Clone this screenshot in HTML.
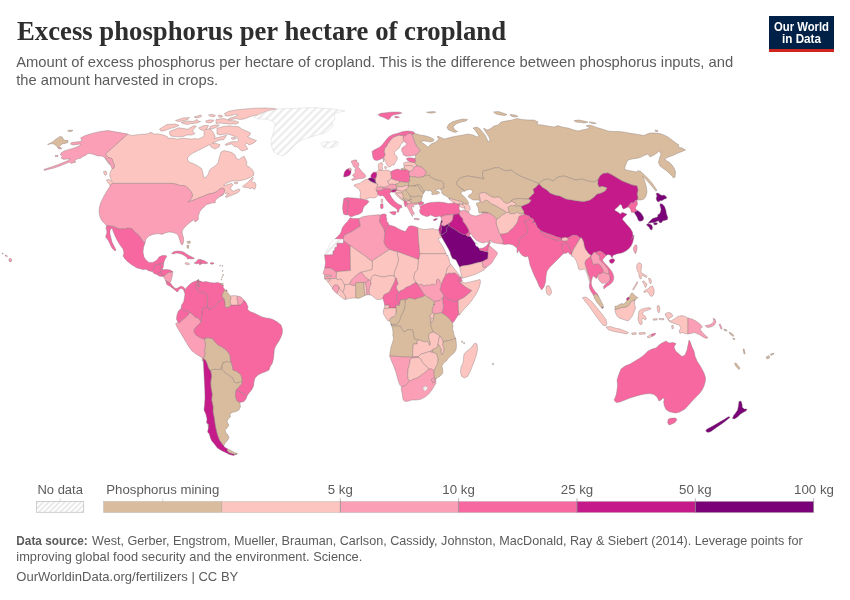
<!DOCTYPE html>
<html lang="en">
<head>
<meta charset="utf-8">
<title>Excess phosphorus per hectare of cropland</title>
<style>
html,body{margin:0;padding:0;background:#fff;}
body{width:850px;height:600px;overflow:hidden;}
svg{display:block;}
text{font-family:"Liberation Sans",sans-serif;}
.title{font-family:"Liberation Serif",serif;font-weight:bold;font-size:27px;fill:#2e2e2e;}
.sub{font-size:14.5px;fill:#5b5b5b;}
.leg{font-size:13px;fill:#5b5b5b;}
.foot{font-size:13px;fill:#5b5b5b;}
.logo{font-size:12px;font-weight:bold;fill:#fff;}
</style>
</head>
<body>
<svg width="850" height="600" viewBox="0 0 850 600">
<defs>
<pattern id="hatch" patternUnits="userSpaceOnUse" width="3.8" height="3.8" patternTransform="rotate(45)">
<rect width="3.8" height="3.8" fill="#fff"/>
<line x1="1.9" y1="0" x2="1.9" y2="3.8" stroke="#dadada" stroke-width="1.1"/>
</pattern>
<pattern id="hatchmap" patternUnits="userSpaceOnUse" width="5.5" height="5.5" patternTransform="rotate(45)">
<rect width="5.5" height="5.5" fill="#fff"/>
<line x1="2.75" y1="0" x2="2.75" y2="5.5" stroke="#ebebeb" stroke-width="2.3"/>
</pattern>
</defs>
<rect width="850" height="600" fill="#fff"/>
<!-- header -->
<text class="title" x="17" y="40.3" textLength="489" lengthAdjust="spacingAndGlyphs">Excess phosphorus per hectare of cropland</text>
<text class="sub" x="16.2" y="66.8" textLength="717" lengthAdjust="spacingAndGlyphs">Amount of excess phosphorus per hectare of cropland. This is the difference between phosphorus inputs, and</text>
<text class="sub" x="16.2" y="84.8" textLength="202" lengthAdjust="spacingAndGlyphs">the amount harvested in crops.</text>
<!-- logo -->
<g id="logo">
<rect x="769" y="16" width="65" height="36" fill="#002147"/>
<rect x="769" y="49" width="65" height="3" fill="#ce261e"/>
<text class="logo" x="801.5" y="30.5" text-anchor="middle" textLength="55" lengthAdjust="spacingAndGlyphs">Our World</text>
<text class="logo" x="801.5" y="43" text-anchor="middle" textLength="39" lengthAdjust="spacingAndGlyphs">in Data</text>
</g>
<!-- MAP -->
<g id="map" stroke="#857777" stroke-width="0.38" stroke-linejoin="round" fill-rule="evenodd">
<path d="M268.0,111.0 277.2,109.2 274.0,108.5 265.0,108.0 255.0,108.2 245.0,109.0 235.0,110.0 228.0,111.5 224.5,113.5 225.5,116.0 229.0,116.0 233.0,115.0 236.0,114.0 238.0,115.0 234.0,117.0 230.0,118.0 227.8,119.8 224.0,118.5 216.0,119.5 216.0,123.5 220.0,123.0 224.0,123.5 230.0,124.0 236.0,124.0 239.0,122.5 236.0,121.0 230.0,120.5 228.2,119.9 232.0,119.5 236.0,118.5 240.0,119.5 244.0,119.0 252.0,116.0 256.4,115.1 256.6,115.7 260.0,114.0ZM236.5,142.0 234.0,141.5 231.0,142.0 228.0,143.0 225.0,144.5 226.0,145.5 229.0,144.5 231.5,144.0 233.5,145.5 235.0,147.0 236.5,146.5 238.5,148.0 240.5,150.0 242.5,151.0 245.5,150.0 248.0,149.0 246.5,147.0 245.0,144.5 247.0,143.0 249.0,145.0 251.5,144.0 254.5,142.5 256.5,140.5 253.5,139.5 250.0,138.0 247.5,136.5 250.0,135.0 250.5,133.0 247.5,131.5 241.5,129.0 239.5,127.0 236.0,126.2 233.0,126.5 230.0,125.8 223.0,126.5 220.0,127.5 217.0,128.0 217.0,134.0 220.0,135.0 222.0,134.5 226.0,134.0 230.0,134.5 233.0,136.0 236.0,136.5 238.0,138.0 238.5,140.0ZM254.5,189.5 255.5,187.5 256.0,185.5 255.5,183.5 254.5,182.0 253.0,182.5 251.5,181.5 252.5,180.0 253.5,177.8 252.5,177.5 247.0,183.0 242.5,186.5 243.5,187.2 245.0,187.2 249.0,187.8 250.0,189.0 252.8,187.5 253.5,189.0ZM204.0,135.6 202.5,137.2 200.0,138.2 198.0,139.2 196.0,138.5 192.0,139.0 188.0,138.8 184.0,138.2 180.0,138.5 177.5,139.2 174.0,138.4 170.0,138.0 168.5,138.5 167.5,136.8 164.0,135.2 160.0,134.3 157.0,133.8 154.5,134.2 152.0,132.8 150.0,132.2 150.0,133.4 146.0,134.0 140.0,134.4 136.0,135.0 131.0,135.4 127.6,134.0 105.4,154.0 108.0,157.4 112.0,158.6 113.0,162.0 114.4,165.0 114.0,168.0 112.0,168.6 112.2,169.1 111.6,169.4 110.4,172.0 109.6,175.0 110.4,178.0 112.0,181.0 112.3,181.7 112.0,181.4 109.0,179.4 106.4,180.0 108.0,182.6 110.0,185.0 110.5,185.4 112.0,183.4 172.0,183.4 177.0,184.4 180.0,185.5 183.0,185.5 186.0,186.5 188.5,188.5 190.5,191.0 192.0,193.5 192.5,195.5 191.5,198.0 190.0,200.0 188.0,202.2 191.0,201.0 194.0,200.0 200.0,197.5 203.0,196.5 206.0,195.0 209.0,194.0 212.0,193.5 215.0,192.5 217.0,191.5 218.5,190.0 220.0,188.8 222.0,188.2 224.0,188.5 224.5,190.0 224.0,192.5 225.0,193.5 227.0,193.2 229.0,193.5 226.0,195.5 225.5,197.0 226.5,197.5 228.5,196.5 236.0,193.5 238.0,192.5 239.5,191.2 239.8,189.5 238.5,189.0 236.5,189.8 233.5,191.2 231.5,190.0 230.5,188.5 231.5,186.5 233.0,185.0 232.0,183.5 230.0,183.8 224.0,185.8 223.7,185.0 226.0,183.5 229.0,182.0 232.0,181.0 235.0,180.8 238.0,181.0 241.0,180.5 245.0,179.5 248.0,178.5 252.0,176.5 253.5,175.5 254.0,173.0 252.5,170.0 250.0,167.5 246.0,165.0 247.0,163.0 245.6,159.0 244.0,156.0 239.0,159.4 236.4,158.6 235.0,155.0 232.0,152.6 228.0,151.4 224.0,150.6 221.0,152.0 220.0,155.0 218.0,163.0 215.0,166.0 212.0,168.0 209.6,170.0 208.4,174.0 206.0,177.4 203.6,177.0 203.0,173.0 201.6,168.6 198.0,166.0 193.0,163.4 189.0,162.0 187.5,159.5 188.0,157.0 190.0,155.0 193.0,153.0 210.2,144.4 211.0,147.0 215.0,149.0 219.0,147.0 220.0,144.5 214.0,143.0 212.3,143.2 213.0,142.8 216.0,141.5 220.0,140.0 224.0,139.5 225.5,137.0 226.5,135.0 224.0,136.0 216.0,138.0 214.1,138.7 215.2,137.0 214.2,134.0 212.0,130.8 210.8,130.0 210.5,129.5 210.2,129.6 209.0,128.8 205.2,129.7 207.0,128.5 208.5,125.5 204.0,125.5 198.5,128.0 201.0,130.0 204.0,130.5ZM237.0,183.8 238.2,182.8 236.0,182.0 234.0,182.5 234.8,183.8ZM233.0,139.5 236.5,138.5 235.0,137.2 231.0,138.0ZM220.6,196.0 223.0,195.0 223.4,194.1 222.0,195.0ZM219.5,117.5 222.5,117.0 221.5,115.0 218.0,115.5ZM219.5,125.0 215.0,125.0 210.0,126.5 209.5,129.0 212.0,129.0 216.0,127.5ZM208.5,115.0 210.0,116.2 214.0,117.0 215.5,115.5 212.0,114.2ZM209.0,123.0 212.5,122.0 214.0,120.2 210.0,119.8 205.5,121.0 206.5,122.5ZM194.0,117.0 197.0,118.0 201.5,116.5 201.0,115.0ZM187.0,121.0 181.0,122.5 183.0,123.5 187.0,124.5 192.0,123.5 197.0,123.0 200.5,121.5 198.0,121.0 197.0,119.5 193.0,121.5ZM194.0,128.5 196.5,126.2 194.0,125.7 190.0,127.8 188.0,129.3 184.0,128.5 179.0,127.8 169.8,131.2 169.5,134.0 171.0,136.0 177.0,136.8 183.0,136.6 187.0,135.0 192.0,135.0 195.0,133.5 192.5,131.0ZM183.0,121.0 187.5,119.5 189.5,117.5 183.0,118.0 175.5,120.5 178.0,121.5ZM165.0,130.5 170.0,128.6 176.5,126.8 179.0,125.3 175.0,124.0 167.0,124.5 159.5,129.0 161.0,131.2ZM104.6,157.5 108.0,163.0 110.7,165.2 109.0,162.0 107.0,159.4ZM107.0,174.0 106.0,171.0 103.6,171.4 104.0,174.0 105.6,175.4Z" fill="#fcc5c0"/>
<path d="M101.0,202.0 99.4,207.0 99.0,212.0 100.0,217.0 102.0,221.0 106.6,225.6 113.0,226.4 119.0,229.0 126.0,229.0 127.0,228.0 132.0,228.6 135.0,232.4 138.0,234.4 140.0,237.0 143.6,242.4 145.0,243.0 146.0,239.0 149.0,236.0 153.0,234.4 158.0,233.6 162.0,234.4 165.0,233.0 169.0,232.0 173.0,232.4 176.0,233.6 178.0,235.0 181.0,244.0 182.4,245.0 183.6,242.0 183.6,238.0 182.4,234.0 182.0,231.0 184.0,228.0 187.0,225.0 190.0,222.4 194.0,219.6 195.0,222.0 197.5,220.5 198.5,219.0 198.2,217.0 198.5,215.0 199.5,213.5 199.2,212.5 200.5,210.8 201.5,209.2 203.0,208.0 206.0,205.0 207.5,204.2 210.0,203.7 212.0,202.8 214.0,203.0 215.5,202.5 215.0,201.5 216.0,199.5 222.0,195.0 223.5,194.0 224.0,192.5 224.5,190.0 224.0,188.5 222.0,188.2 220.0,188.8 218.5,190.0 217.0,191.5 215.0,192.5 212.0,193.5 209.0,194.0 206.0,195.0 203.0,196.5 200.0,197.5 194.0,200.0 191.0,201.0 188.0,202.2 190.0,200.0 191.5,198.0 192.5,195.5 192.0,193.5 190.5,191.0 188.5,188.5 186.0,186.5 183.0,185.5 180.0,185.5 177.0,184.4 172.0,183.4 112.0,183.4 110.5,185.4 110.0,185.0 110.3,185.4 104.0,196.0ZM96.0,132.4 90.0,134.0 84.0,136.0 80.6,138.0 82.0,140.6 80.0,141.4 76.0,142.0 71.6,142.4 70.4,144.0 73.0,145.0 77.0,144.4 81.0,144.0 79.0,146.0 74.0,148.0 69.0,149.4 64.0,151.0 61.0,153.0 60.4,155.0 62.4,156.6 61.0,158.0 63.6,159.4 67.0,159.0 70.0,159.0 68.0,160.6 57.0,165.0 44.0,169.4 44.0,170.4 54.0,168.0 60.0,166.0 66.0,163.4 70.0,162.0 71.0,163.4 76.0,162.0 74.0,161.0 77.0,159.0 81.0,158.0 83.0,156.6 86.4,155.0 88.0,153.4 90.0,153.6 94.0,154.6 98.0,156.0 102.0,156.0 104.4,157.4 107.0,159.4 109.0,162.0 110.6,165.0 112.0,168.6 114.0,168.0 114.4,165.0 113.0,162.0 112.0,158.6 108.0,157.4 105.4,154.0 127.6,134.0 120.0,132.6 108.0,130.6 102.0,131.2ZM57.6,147.6 59.0,149.0 62.0,148.8 61.0,147.6ZM55.4,156.6 58.0,156.6 58.0,155.4 55.0,155.4Z" fill="#fa9fb5"/>
<path d="M412.8,136.5 415.0,143.0 416.5,146.0 420.0,150.5 418.5,152.5 416.5,154.5 415.5,154.9 415.5,157.0 415.0,158.5 415.5,161.0 415.0,162.5 414.0,162.5 414.0,162.7 415.0,162.8 416.5,165.0 415.5,166.5 418.0,166.0 421.0,167.0 423.5,168.5 426.5,172.5 425.0,174.5 424.5,175.5 425.2,176.1 427.0,175.5 429.5,175.0 430.0,176.5 433.0,178.5 436.0,180.0 439.0,180.5 442.0,181.5 443.8,183.0 443.5,185.5 444.0,187.5 442.0,188.5 440.5,189.5 442.0,191.0 441.5,193.0 443.0,194.5 446.0,196.0 449.0,198.0 455.0,200.0 459.0,201.0 462.0,202.0 464.0,203.5 466.0,204.0 467.2,204.4 468.7,203.3 468.5,202.5 467.0,200.0 465.0,197.5 461.0,193.5 462.0,191.5 464.0,190.8 464.0,190.0 459.0,187.0 457.4,185.0 456.4,182.4 457.0,182.0 459.0,179.0 463.0,177.0 468.0,176.0 480.0,178.0 484.0,179.0 482.4,175.0 483.0,171.0 488.0,170.0 494.0,168.0 499.0,167.6 503.0,170.0 507.0,171.0 511.0,170.0 515.0,173.0 520.0,176.0 539.0,183.6 543.0,180.0 548.0,179.0 553.0,181.0 558.0,177.0 564.0,176.0 576.0,180.0 582.0,179.0 588.0,181.0 594.0,182.0 598.0,180.0 600.0,176.0 603.0,173.6 608.0,173.0 612.0,175.0 622.0,181.0 632.0,185.0 637.0,186.0 638.0,190.0 637.0,194.0 638.0,198.0 637.0,200.0 641.0,200.0 644.0,199.0 646.0,196.0 647.0,192.0 646.4,187.0 645.0,182.0 643.0,177.0 642.6,176.2 646.4,180.0 650.0,184.0 653.0,187.6 655.6,191.0 657.0,190.4 654.4,186.4 651.6,182.4 648.0,178.4 644.0,174.4 640.0,171.0 639.9,171.5 639.0,170.4 636.0,172.0 632.0,171.0 628.0,170.4 624.4,169.0 625.0,167.0 626.4,163.0 628.0,160.0 632.0,159.0 636.0,158.4 640.0,157.6 644.0,155.6 648.0,154.0 650.0,157.0 654.0,155.0 657.0,153.0 659.0,151.0 661.0,154.0 659.6,158.0 658.4,162.4 660.0,166.0 668.0,172.0 671.0,175.0 673.6,178.0 675.0,177.0 675.6,172.0 674.0,168.0 672.0,165.0 669.0,162.0 665.0,160.0 666.0,158.0 670.0,156.4 674.0,155.0 678.0,153.0 682.0,151.6 685.6,150.0 682.0,148.0 678.0,147.0 679.0,145.0 676.0,143.0 668.0,137.0 664.0,135.0 660.0,133.6 655.0,133.0 650.0,133.0 647.0,134.0 644.0,135.6 638.0,134.4 632.0,133.6 626.0,132.4 620.0,131.6 614.0,131.6 608.0,131.0 602.0,129.0 597.0,127.6 593.0,126.0 589.0,125.0 586.0,126.0 590.0,127.6 587.0,129.0 582.0,130.0 578.0,131.0 574.0,130.0 568.0,128.0 562.0,127.0 558.0,125.6 554.0,127.0 542.0,125.0 537.0,124.4 538.0,122.0 534.0,120.0 528.0,120.0 522.0,119.6 517.0,118.4 512.0,120.0 506.0,121.0 501.0,122.0 498.0,125.0 494.0,126.0 490.0,129.0 487.0,130.0 483.6,128.0 485.0,131.0 489.0,137.0 490.0,140.0 488.4,142.0 487.0,139.0 485.0,135.0 482.4,132.0 480.0,129.0 477.0,127.0 473.0,128.0 475.0,130.0 479.0,136.0 477.0,137.0 473.0,135.0 468.0,134.0 463.0,135.0 457.0,136.0 452.0,137.0 444.0,139.0 441.0,137.5 438.0,136.2 437.0,137.0 439.0,138.5 437.5,140.5 435.0,142.5 432.0,143.5 430.0,145.0 428.0,147.0 426.5,146.0 425.0,144.5 420.5,141.8 422.0,141.2 425.0,141.0 431.0,142.0 433.5,141.0 434.0,139.5 431.5,138.0 428.0,136.5 424.0,135.5 420.0,135.0 417.0,134.0 414.5,133.5 412.0,134.5ZM539.0,183.6 537.9,184.8 539.0,184.4 539.8,184.5ZM449.0,198.0 449.0,199.0 449.9,199.4ZM655.0,130.0 655.6,131.4 658.0,131.6 657.6,130.4ZM589.0,122.0 592.0,123.6 596.4,123.6 594.0,122.4ZM576.0,122.0 585.0,123.0 588.0,122.0 584.0,121.0 579.0,120.0 574.0,120.6ZM518.0,116.4 515.0,115.0 510.0,114.4 511.0,116.0 514.0,117.0ZM503.0,113.0 498.0,111.4 493.6,112.0 496.0,114.0 500.0,115.0 505.0,115.6 507.0,114.4ZM458.0,120.0 453.0,121.6 449.0,124.0 447.0,127.0 448.0,129.6 451.0,131.0 455.0,132.4 457.6,131.6 455.0,130.0 453.0,127.0 456.0,124.0 461.0,122.0 466.0,121.0 467.6,119.4 463.0,119.0ZM462.4,204.3 462.1,204.4 463.0,204.8ZM428.5,112.8 431.0,113.2 433.5,112.8 435.8,112.2 434.0,111.6 430.0,111.8 426.5,112.2ZM404.5,168.0 404.5,167.9 401.0,168.5 401.5,170.0 405.0,170.0 406.5,169.5ZM71.6,131.4 73.0,130.4 70.4,130.0 67.6,130.6 68.4,131.6ZM58.4,147.6 62.0,144.0 65.0,143.4 68.0,142.6 68.0,140.6 63.6,140.0 62.4,137.0 60.0,136.4 56.0,139.0 52.4,142.0 47.6,144.4 48.0,144.8 51.0,143.6 54.0,144.0 58.2,147.6Z" fill="#d9bc9d"/>
<path d="M108.0,240.0 112.0,248.0 115.0,251.0 116.0,250.0 112.0,242.0 110.0,234.0 110.0,230.0 112.0,228.0 113.0,231.0 115.0,236.0 117.0,240.0 120.0,245.0 123.0,249.0 124.0,253.0 123.0,256.0 125.0,259.0 128.0,262.0 132.0,265.0 137.0,268.0 143.0,269.5 146.0,269.2 149.0,271.0 152.2,271.5 154.5,267.0 155.0,265.0 162.5,263.5 163.8,262.8 164.5,260.5 165.5,258.5 166.7,256.6 166.0,255.4 162.0,255.6 159.0,257.0 157.0,260.0 153.0,262.4 149.0,262.4 146.0,260.0 144.0,257.0 143.0,252.0 143.6,247.0 145.0,243.0 143.6,242.4 140.0,237.0 138.0,234.4 135.0,232.4 132.0,228.6 127.0,228.0 126.0,229.0 119.0,229.0 113.0,226.4 106.6,225.6 106.0,228.0 107.0,232.0 105.6,237.0Z" fill="#f768a1"/>
<path d="M154.0,273.5 157.0,274.5 158.5,273.5 160.5,271.5 161.0,270.5 162.5,270.0 161.0,268.5 160.5,266.5 160.0,264.0 155.0,265.0 154.5,267.0 152.2,271.5Z" fill="#f768a1"/>
<path d="M160.5,266.5 161.0,268.5 162.5,270.0 162.2,269.0 163.2,267.5 163.8,262.8 162.5,263.5 160.0,264.0Z" fill="#f768a1"/>
<path d="M160.5,271.5 161.0,274.0 162.5,274.5 163.2,276.2 165.0,275.5 166.5,274.0 168.5,272.5 171.0,272.5 172.8,271.5 170.0,270.0 167.0,269.5 164.0,269.5 161.0,270.5Z" fill="#f768a1"/>
<path d="M158.5,275.8 161.0,276.5 163.2,276.2 162.5,274.5 161.0,274.0 160.5,271.5 158.5,273.5 157.0,274.5Z" fill="#f768a1"/>
<path d="M165.5,280.0 167.5,282.0 170.0,282.5 171.0,281.0 171.8,278.0 172.5,275.0 172.8,271.5 171.0,272.5 168.5,272.5 166.5,274.0 165.0,275.5 163.2,276.2 164.0,278.0ZM165.5,280.0 166.2,282.5 167.5,282.0Z" fill="#fa9fb5"/>
<path d="M168.5,285.5 170.5,286.5 172.0,288.0 173.5,288.5 173.0,286.5 170.0,282.5 167.5,282.0 166.2,282.5 166.8,284.5Z" fill="#f768a1"/>
<path d="M173.5,288.5 174.0,289.5 175.5,290.5 177.0,292.0 178.0,291.5 179.0,289.5 180.5,288.5 182.0,288.5 183.5,290.0 184.3,291.2 185.3,289.6 184.5,288.0 182.5,286.5 180.5,286.2 178.5,287.5 176.5,288.5 174.5,288.0 173.0,286.5Z" fill="#f768a1"/>
<path d="M173.5,254.0 176.0,253.0 179.5,253.5 182.5,254.5 185.0,256.0 187.0,257.5 187.5,259.0 190.0,258.8 193.0,259.0 194.5,258.2 189.0,255.5 186.5,254.0 184.0,252.2 181.0,251.2 177.5,251.0 174.0,251.5 171.5,253.5Z" fill="#f768a1"/>
<path d="M190.4,243.0 190.0,241.0 187.0,241.6 188.0,243.6ZM188.4,248.4 189.0,245.6 187.0,245.0 187.0,248.0Z" fill="#d9bc9d"/>
<path d="M185.5,264.2 187.5,264.8 189.5,264.5 189.0,263.2 187.0,262.5 185.0,263.0Z" fill="#fcc5c0"/>
<path d="M196.0,263.8 198.5,263.5 200.0,265.0 201.0,264.0 200.5,259.5 199.0,259.2 197.5,260.0 196.0,262.0 194.0,263.0Z" fill="#f768a1"/>
<path d="M200.5,259.5 201.0,264.0 203.5,263.5 206.0,263.8 208.0,263.0 206.5,262.0 204.0,260.5Z" fill="#f768a1"/>
<path d="M211.2,264.2 213.5,264.0 214.0,263.0 212.0,262.5 210.0,263.0Z" fill="#f768a1"/>
<path d="M220.4,265.2 219.8,265.2 219.8,266.0 220.4,266.0ZM222.0,265.5 222.0,266.3 222.6,266.3 222.6,265.5ZM222.2,270.5 222.2,271.4 222.8,271.4 222.8,270.5ZM223.4,274.5 222.8,274.5 222.8,275.6 223.4,275.6ZM221.8,276.8 221.8,277.6 222.4,277.6 222.4,276.8ZM221.2,279.2 221.2,280.0 221.8,280.0 221.8,279.2Z" fill="#d9bc9d"/>
<path d="M258.0,119.0 264.0,119.0 270.0,120.0 273.6,122.0 275.0,126.0 273.0,134.0 271.6,138.0 271.0,143.0 272.0,148.0 274.0,152.4 278.0,154.4 282.0,156.0 286.0,154.0 297.0,143.0 302.0,140.0 320.0,134.0 325.0,133.0 329.0,130.0 333.0,126.0 332.0,122.0 335.0,119.0 334.0,115.0 338.0,112.4 345.0,111.0 340.0,110.0 334.0,109.0 314.0,107.6 290.0,108.4 278.0,109.0 268.0,111.0 260.0,114.0 254.0,117.0Z" fill="url(#hatchmap)" stroke="#cfcfcf"/>
<path d="M321.6,145.6 324.0,147.6 329.0,148.0 334.0,147.0 337.6,145.0 338.4,142.4 335.0,141.0 330.0,142.0 325.0,141.6 321.0,143.0Z" fill="url(#hatchmap)" stroke="#cfcfcf"/>
<path d="M224.2,362.2 224.0,362.0 223.5,362.3 222.0,365.0 223.6,362.4ZM237.0,401.0 235.6,397.0 235.6,393.0 236.4,389.6 239.0,387.0 241.6,384.0 242.4,380.0 240.0,382.0 237.0,383.0 234.0,382.0 233.0,378.0 227.0,374.0 224.0,371.6 222.0,369.0 222.0,365.0 221.0,369.0 218.0,369.6 215.0,369.0 212.0,369.6 210.4,370.7 210.6,371.0 211.6,376.0 210.6,382.0 211.0,388.0 212.2,394.0 211.6,400.0 213.0,406.0 213.0,412.0 214.2,418.0 215.0,424.0 216.2,430.0 217.6,435.4 219.6,440.4 222.4,444.4 223.7,445.9 225.0,443.0 227.0,441.0 229.0,438.0 228.0,435.0 226.0,433.0 225.0,430.0 227.0,428.0 229.0,425.0 227.0,422.0 228.0,419.0 230.4,417.0 230.0,414.0 232.0,412.4 236.0,411.6 239.0,410.0 240.4,407.0 239.9,402.4 240.0,402.4ZM208.5,427.2 209.0,424.4 207.9,423.7 208.0,426.0ZM236.0,454.4 236.5,454.2 237.0,454.0 236.3,453.9 235.4,454.3Z" fill="#d9bc9d"/>
<path d="M235.6,393.0 235.6,397.0 237.0,401.0 240.0,402.4 244.0,401.6 246.0,399.0 247.0,396.0 244.0,394.0 240.0,391.6 236.4,389.6Z" fill="#f768a1"/>
<path d="M222.0,369.0 224.0,371.6 227.0,374.0 233.0,378.0 234.0,382.0 237.0,383.0 240.0,382.0 242.4,380.0 241.0,375.0 239.0,373.0 236.0,371.0 233.0,370.0 232.4,366.0 231.0,362.0 227.0,361.4 223.6,362.4 222.0,365.0Z" fill="#d9bc9d"/>
<path d="M215.0,369.0 218.0,369.6 221.0,369.0 222.0,365.0 223.6,362.0 223.5,362.3 224.0,362.0 224.2,362.2 227.0,361.4 231.0,362.0 230.4,359.0 230.0,355.0 228.0,352.0 225.0,349.0 222.0,347.0 218.0,345.0 215.0,342.0 213.0,339.0 210.0,338.0 207.0,337.6 204.4,339.0 205.0,342.0 205.6,346.0 204.4,350.0 205.0,354.0 203.6,358.4 205.6,360.4 207.2,364.0 208.4,368.0 210.4,370.7 212.0,369.6ZM202.4,357.7 202.0,360.0 203.4,361.9 203.2,358.2Z" fill="#d9bc9d"/>
<path d="M203.2,358.2 204.8,390.0 205.0,398.0 204.6,404.0 204.0,410.0 205.8,414.0 207.0,419.0 206.6,423.0 209.0,424.4 208.4,428.0 207.6,432.0 209.4,434.0 210.4,438.0 211.8,441.0 214.4,444.0 217.4,448.0 221.4,450.6 225.4,452.4 229.4,454.4 233.4,455.6 236.0,454.4 235.4,454.3 235.0,454.4 232.4,453.6 229.0,452.4 227.0,450.0 228.0,449.0 225.0,447.4 222.4,444.4 219.6,440.4 217.6,435.4 216.2,430.0 215.0,424.0 214.2,418.0 213.0,412.0 213.0,406.0 211.6,400.0 212.2,394.0 211.0,388.0 210.6,382.0 211.6,376.0 210.6,371.0 208.4,368.0 207.2,364.0 205.6,360.4 203.6,358.4Z" fill="#c51b8a"/>
<path d="M229.0,452.4 232.4,453.6 235.0,454.4 237.0,453.6 234.4,452.4 228.0,449.0 227.0,450.0ZM237.0,453.6 236.3,453.9 237.0,454.0 237.5,453.8Z" fill="#d9bc9d"/>
<path d="M175.6,323.6 177.0,327.0 189.0,347.0 192.0,351.0 196.0,354.0 200.0,356.4 203.6,358.4 205.0,354.0 204.4,350.0 205.6,346.0 205.0,342.0 204.4,339.0 207.0,337.6 203.0,339.0 199.0,337.0 196.0,335.0 194.0,332.0 194.4,329.0 197.0,326.0 200.0,323.0 201.6,322.0 198.0,318.0 195.0,317.0 192.0,314.0 190.0,312.4 188.0,315.0 185.0,318.0 182.0,320.0 180.0,322.4 178.0,322.4Z" fill="#fa9fb5"/>
<path d="M178.4,311.0 177.0,315.0 176.4,319.0 178.0,322.4 180.0,322.4 182.0,320.0 185.0,318.0 188.0,315.0 190.0,312.4 187.0,311.0 184.0,310.0 181.0,308.4Z" fill="#f768a1"/>
<path d="M200.0,323.0 197.0,326.0 194.4,329.0 194.0,332.0 196.0,335.0 199.0,337.0 203.0,339.0 207.0,337.6 210.0,338.0 213.0,339.0 215.0,342.0 218.0,345.0 222.0,347.0 225.0,349.0 228.0,352.0 230.0,355.0 230.4,359.0 231.0,362.0 232.4,366.0 233.0,370.0 236.0,371.0 239.0,373.0 241.0,375.0 242.4,380.0 241.6,384.0 239.0,387.0 236.4,389.6 240.0,391.6 244.0,394.0 247.0,396.0 249.0,393.0 251.6,390.0 253.6,386.0 254.0,382.0 255.0,378.0 258.0,375.0 262.0,373.0 266.0,371.6 269.0,370.0 270.0,367.0 272.4,363.0 273.6,358.0 274.4,349.0 276.4,345.0 279.0,341.0 281.0,337.0 282.4,333.0 282.4,329.0 281.0,325.0 278.0,322.4 274.0,320.0 270.0,318.4 266.0,318.0 262.0,317.0 254.0,313.0 250.0,311.6 247.6,309.6 248.0,307.0 246.4,303.0 244.0,300.0 242.4,303.0 240.0,305.0 231.0,305.0 229.0,307.0 226.0,307.6 225.0,305.0 225.0,302.0 224.4,299.0 222.0,300.0 219.0,301.0 216.0,305.0 213.0,308.0 210.0,309.0 209.0,309.0 208.0,307.0 203.0,308.0 202.0,311.0 202.0,315.0 201.0,320.0 201.6,322.0Z" fill="#f768a1"/>
<path d="M200.0,281.0 199.0,280.7 198.4,279.6 197.6,283.6 198.0,286.4 199.6,287.0 199.0,284.0ZM184.4,298.0 183.6,302.0 181.6,305.0 181.0,308.4 184.0,310.0 187.0,311.0 190.0,312.4 192.0,314.0 195.0,317.0 198.0,318.0 201.6,322.0 201.0,320.0 202.0,315.0 202.0,311.0 203.0,308.0 208.0,307.0 207.0,303.0 208.0,299.0 207.0,295.0 205.0,293.0 200.0,292.0 197.0,290.0 196.0,286.0 197.0,283.0 198.4,279.6 196.0,281.0 193.0,282.0 190.0,284.0 187.0,287.0 184.0,291.6 185.0,294.0Z" fill="#f768a1"/>
<path d="M197.0,283.0 196.0,286.0 197.0,290.0 200.0,292.0 205.0,293.0 207.0,295.0 208.0,299.0 207.0,303.0 208.0,307.0 209.0,309.0 210.0,309.0 213.0,308.0 216.0,305.0 219.0,301.0 222.0,300.0 224.4,299.0 222.0,296.0 223.0,293.0 225.0,290.0 223.0,287.0 223.6,285.0 222.6,284.5 222.0,285.0 220.5,284.0 221.1,283.7 218.0,282.4 214.0,283.0 210.0,282.4 206.0,281.6 203.0,282.0 200.0,281.0 199.0,284.0 199.6,287.0 198.0,286.4 197.6,283.6 198.4,279.6ZM227.0,290.0 225.0,290.0 227.0,292.0Z" fill="#f768a1"/>
<path d="M223.0,293.0 222.0,296.0 224.4,299.0 225.0,302.0 225.0,305.0 226.0,307.6 229.0,307.0 231.0,305.0 230.0,301.0 231.0,299.0 230.4,296.0 228.0,293.0 225.0,290.0Z" fill="#d9bc9d"/>
<path d="M231.0,299.0 230.0,301.0 231.0,305.0 238.0,305.0 238.0,302.0 237.0,299.0 237.6,296.0 234.0,295.6 230.4,296.0Z" fill="#fcc5c0"/>
<path d="M237.0,299.0 238.0,302.0 238.0,305.0 240.0,305.0 242.4,303.0 244.0,300.0 241.0,297.0 237.6,296.0Z" fill="#fa9fb5"/>
<path d="M222.0,285.0 223.2,284.0 222.5,283.0 220.5,284.0Z" fill="#d9bc9d"/>
<path d="M344.0,235.5 352.0,231.5 358.0,227.5 360.5,226.2 360.0,224.5 359.0,218.5 353.0,218.5 350.0,217.8 349.0,219.5 347.5,221.5 345.5,223.5 343.5,226.0 342.0,228.5 341.5,231.0 340.0,234.0 335.0,239.0 343.5,239.2Z" fill="#f768a1"/>
<path d="M333.0,251.0 334.5,250.5 335.0,247.5 337.0,247.0 337.0,243.2 343.5,243.2 343.5,239.2 335.0,239.0 332.5,241.0 330.5,243.5 329.0,246.0 324.5,255.0 333.0,254.7Z" fill="url(#hatchmap)" stroke="#cfcfcf"/>
<path d="M325.5,263.0 324.6,268.5 327.0,268.0 330.0,268.0 333.0,269.5 335.0,271.0 336.0,272.0 339.5,271.5 350.5,270.5 350.2,245.5 343.5,240.5 343.5,243.2 337.0,243.2 337.0,247.0 335.0,247.5 334.5,250.5 333.0,251.0 333.0,254.7 324.5,255.0Z" fill="#f768a1"/>
<path d="M360.0,224.5 360.5,226.2 358.0,227.5 352.0,231.5 344.0,235.5 343.5,239.2 343.5,240.5 355.0,249.0 365.0,256.0 369.5,259.7 372.0,261.0 375.0,259.0 379.0,256.5 384.0,253.0 389.5,249.5 387.5,248.0 385.5,245.5 384.0,242.0 385.0,234.5 384.5,231.0 384.0,229.0 379.5,221.5 380.5,215.0 378.0,214.8 370.0,215.5 366.0,216.0 362.0,217.0 359.0,218.5Z" fill="#fa9fb5"/>
<path d="M379.5,221.5 384.0,229.0 384.5,231.0 385.0,231.0 386.0,229.0 389.0,225.0 388.0,222.5 386.5,221.0 387.0,219.0 386.0,217.0 386.5,215.0 385.0,214.0 382.5,214.0 380.5,215.0Z" fill="#f768a1"/>
<path d="M384.5,231.0 385.0,234.5 384.0,242.0 385.5,245.5 387.5,248.0 389.5,249.5 394.0,251.0 397.0,251.5 417.5,259.1 417.5,259.0 419.0,259.0 420.0,253.7 419.8,253.0 418.5,240.0 418.0,230.0 417.5,227.5 414.0,226.2 411.0,225.8 408.5,226.5 407.0,229.0 405.0,232.0 405.0,231.5 401.0,230.0 398.0,228.5 395.0,226.8 392.0,225.8 389.0,225.0 386.0,229.0 385.0,231.0Z" fill="#f768a1"/>
<path d="M440.7,235.0 440.9,231.7 440.5,234.0 440.0,234.5 439.3,231.5 438.7,229.7 437.0,229.8 435.0,229.5 433.0,228.5 425.0,229.5 421.0,229.0 417.5,227.5 418.0,230.0 418.5,240.0 419.8,253.0 420.0,253.7 446.1,253.7 445.0,251.0 442.0,245.0 440.5,243.0 439.5,241.5 438.0,238.8 439.2,238.4 441.8,237.2Z" fill="#fcc5c0"/>
<path d="M418.5,259.5 417.8,265.0 417.5,270.0 415.0,272.0 414.0,275.0 413.5,278.0 415.0,281.0 416.0,282.5 417.5,284.0 419.5,285.0 421.0,284.0 424.0,286.0 427.0,285.0 430.0,285.5 432.0,284.0 434.5,285.0 436.5,283.5 436.5,280.0 438.0,279.0 439.5,280.0 440.0,282.5 441.5,284.0 443.5,279.0 445.0,276.5 446.0,274.0 446.5,271.0 447.5,268.0 449.0,266.0 451.0,264.5 450.0,263.0 449.0,259.0 447.5,255.0 447.0,256.0 446.1,253.7 446.0,253.7 420.0,253.7 419.0,259.0 417.5,259.0 417.5,259.1Z" fill="#fcc5c0"/>
<path d="M397.5,255.0 398.5,260.0 397.0,265.0 395.0,270.0 394.0,274.0 394.5,276.5 395.5,278.0 396.5,278.5 397.0,281.0 398.0,284.0 397.5,285.0 396.0,286.0 396.5,289.0 398.0,291.0 399.0,293.0 400.0,291.0 403.0,290.0 406.0,287.5 410.0,286.0 413.0,284.0 416.0,282.5 415.0,281.0 413.5,278.0 414.0,275.0 415.0,272.0 417.5,270.0 417.8,265.0 418.5,259.5 397.0,251.5Z" fill="#fcc5c0"/>
<path d="M394.0,251.0 389.5,249.5 384.0,253.0 379.0,256.5 375.0,259.0 372.0,261.0 372.5,265.0 372.0,269.5 364.0,271.5 361.0,272.0 362.0,273.0 365.5,277.5 368.0,279.0 369.0,280.0 370.5,281.0 371.5,277.0 374.0,275.0 377.0,275.5 380.0,276.5 384.0,277.0 388.0,276.0 392.0,275.5 394.5,276.5 394.0,274.0 395.0,270.0 397.0,265.0 398.5,260.0 397.5,255.0 397.0,251.5Z" fill="#fcc5c0"/>
<path d="M350.5,270.5 339.5,271.5 336.0,272.0 336.5,273.5 336.0,276.5 336.5,278.5 337.5,280.0 340.0,279.0 341.5,279.5 342.5,281.5 344.0,284.0 344.5,285.0 350.0,284.0 350.5,282.0 351.5,280.0 354.0,277.5 357.5,274.5 361.0,272.0 364.0,271.5 372.0,269.5 372.5,265.0 372.0,261.0 369.5,259.7 365.0,256.0 355.0,249.0 350.2,245.5Z" fill="#fcc5c0"/>
<path d="M324.5,269.0 323.5,271.5 323.0,273.5 324.5,275.0 324.5,275.3 331.0,275.2 331.2,276.2 324.5,276.4 324.5,278.5 326.0,279.0 333.0,278.5 336.5,278.5 336.0,276.5 336.5,273.5 336.0,272.0 335.0,271.0 333.0,269.5 330.0,268.0 327.0,268.0 324.6,268.5Z" fill="#fa9fb5"/>
<path d="M331.0,275.2 324.5,275.3 324.5,276.4 331.2,276.2Z" fill="#fcc5c0"/>
<path d="M330.0,278.7 326.0,279.0 324.5,278.5 327.7,281.8 328.5,281.5 330.0,280.5Z" fill="#fcc5c0"/>
<path d="M327.7,281.8 332.0,287.5 333.0,289.5 332.4,288.4 333.0,287.5 334.0,285.5 336.0,284.8 338.0,285.5 340.0,289.5 343.0,292.5 344.0,290.0 344.5,287.0 344.5,285.0 344.0,284.0 342.5,281.5 341.5,279.5 340.0,279.0 337.5,280.0 336.5,278.5 333.0,278.5 330.0,278.7 330.0,280.5 328.5,281.5Z" fill="#fcc5c0"/>
<path d="M333.0,289.5 335.0,292.0 337.0,293.5 338.5,290.0 339.0,287.5 338.0,285.5 336.0,284.8 334.0,285.5 333.0,287.5 332.4,288.4Z" fill="#fa9fb5"/>
<path d="M345.0,295.0 343.0,292.5 340.0,289.5 339.0,287.5 338.5,290.0 337.0,293.5 343.0,298.5 345.5,299.5 345.8,297.0Z" fill="#fcc5c0"/>
<path d="M344.0,290.0 343.0,292.5 345.0,295.0 345.8,297.0 345.5,299.5 349.0,298.5 353.0,298.0 356.0,298.0 355.5,291.0 356.0,288.0 355.5,285.0 354.0,285.5 351.0,285.0 350.0,284.0 344.5,285.0 344.5,287.0Z" fill="#fcc5c0"/>
<path d="M351.0,285.0 354.0,285.5 355.5,285.0 356.0,282.8 360.0,282.5 365.5,282.5 367.0,281.5 369.0,280.0 368.0,279.0 365.5,277.5 362.0,273.0 361.0,272.0 357.5,274.5 354.0,277.5 351.5,280.0 350.5,282.0 350.0,284.0Z" fill="#fa9fb5"/>
<path d="M356.0,288.0 355.5,291.0 356.0,298.0 358.5,298.5 361.0,297.5 365.2,295.4 365.1,295.5 364.5,291.0 364.0,288.0 363.8,285.0 364.0,282.5 360.0,282.5 356.0,282.8 355.5,285.0Z" fill="#d9bc9d"/>
<path d="M364.0,288.0 364.5,291.0 365.1,295.5 366.0,295.0 367.0,294.9 366.8,291.0 366.5,288.0 365.5,282.5 364.0,282.5 363.8,285.0Z" fill="#fcc5c0"/>
<path d="M366.8,291.0 367.0,294.9 368.0,294.7 370.0,294.8 369.6,294.8 369.2,291.0 369.5,287.5 370.5,285.5 371.2,283.0 370.5,281.0 369.0,280.0 367.0,281.5 365.5,282.5 366.5,288.0Z" fill="#fa9fb5"/>
<path d="M369.5,287.5 369.2,291.0 369.6,294.8 370.0,294.8 372.5,296.0 374.5,298.0 377.0,299.5 380.0,299.5 382.5,298.8 384.0,295.0 386.5,293.5 389.0,292.5 390.5,290.0 395.0,281.0 395.5,278.0 394.5,276.5 392.0,275.5 388.0,276.0 384.0,277.0 380.0,276.5 377.0,275.5 374.0,275.0 371.5,277.0 370.5,281.0 371.2,283.0 370.5,285.5Z" fill="#fcc5c0"/>
<path d="M389.0,292.5 386.5,293.5 384.0,295.0 382.5,298.8 383.3,299.4 384.8,305.3 384.8,305.2 384.9,305.2 385.0,305.5 385.1,305.2 389.0,305.2 389.0,308.0 396.0,308.0 396.0,305.2 399.5,305.5 399.9,303.0 399.0,303.0 397.5,301.0 396.5,298.0 397.0,295.0 399.0,293.0 398.0,291.0 396.5,289.0 396.0,286.0 397.5,285.0 398.0,284.0 397.0,281.0 396.5,278.5 395.5,278.0 395.0,281.0 390.5,290.0Z" fill="#f768a1"/>
<path d="M397.0,295.0 396.5,298.0 397.5,301.0 399.0,303.0 399.9,303.0 400.5,300.0 405.0,299.5 405.0,300.1 406.5,299.5 409.0,298.0 412.0,298.5 415.0,299.5 418.0,298.0 421.0,297.5 423.5,296.5 425.0,295.0 423.0,292.5 420.0,287.5 416.0,282.5 413.0,284.0 410.0,286.0 406.0,287.5 403.0,290.0 400.0,291.0 399.0,293.0Z" fill="#f768a1"/>
<path d="M420.0,287.5 423.0,292.5 425.0,295.0 427.0,297.0 430.0,298.5 434.0,301.5 440.0,300.5 443.0,297.5 444.0,295.5 440.0,289.5 441.0,287.0 441.5,284.0 440.0,282.5 439.5,280.0 438.0,279.0 436.5,280.0 436.5,283.5 434.5,285.0 432.0,284.0 430.0,285.5 427.0,285.0 424.0,286.0 421.0,284.0 419.5,285.0 417.5,284.0 416.0,282.5Z" fill="#fa9fb5"/>
<path d="M446.5,271.0 446.0,274.0 447.0,274.5 449.0,273.0 451.0,273.5 454.0,273.0 456.0,273.5 460.0,277.5 460.9,277.9 461.1,277.7 461.3,278.4 461.8,278.3 459.0,274.5 451.0,264.5 449.0,266.0 447.5,268.0Z" fill="#fcc5c0"/>
<path d="M459.2,281.5 458.8,280.0 458.9,279.8 459.0,279.0 460.0,277.5 456.0,273.5 454.0,273.0 451.0,273.5 449.0,273.0 447.0,274.5 446.0,274.0 445.0,276.5 443.5,279.0 441.5,284.0 441.0,287.0 440.0,289.5 444.0,295.5 446.0,298.0 452.0,301.0 455.0,301.5 458.0,300.5 464.0,297.5 470.0,292.5 472.0,290.5 469.0,289.0 465.0,286.5 462.0,284.0 460.0,282.5Z" fill="#f768a1"/>
<path d="M459.0,279.0 458.9,279.8 458.8,280.0 459.2,281.5 460.0,282.5 461.0,282.0 461.9,280.2 462.0,280.5 461.2,278.0 461.1,277.7 460.9,277.9 460.0,277.5Z" fill="#f768a1"/>
<path d="M462.0,284.0 465.0,286.5 469.0,289.0 472.0,290.5 470.0,292.5 464.0,297.5 458.0,300.5 458.0,305.0 458.2,310.0 459.0,315.0 459.5,315.0 460.5,313.5 465.0,308.0 468.0,305.0 471.0,301.5 473.5,298.0 475.5,295.0 477.5,291.5 479.0,288.0 480.0,284.5 480.5,281.5 480.0,279.5 469.0,282.2 465.0,283.0 462.0,282.0 462.0,280.5 461.9,280.2 461.0,282.0 460.0,282.5Z" fill="#fcc5c0"/>
<path d="M443.5,306.0 443.0,309.5 441.5,313.0 445.0,315.0 449.0,318.5 452.5,323.0 454.0,321.5 456.0,318.5 458.2,315.0 459.0,315.0 458.2,310.0 458.0,305.0 458.0,300.5 455.0,301.5 452.0,301.0 446.0,298.0 444.0,295.5 443.0,297.5 442.5,300.5Z" fill="#f768a1"/>
<path d="M432.0,310.0 432.5,313.0 434.0,314.0 437.0,313.5 441.5,313.0 443.0,309.5 443.5,306.0 442.5,300.5 443.0,297.5 440.0,300.5 434.0,301.5 434.5,305.0 434.0,304.0Z" fill="#fa9fb5"/>
<path d="M405.0,300.1 404.8,306.0 404.0,310.0 401.0,316.0 400.0,319.0 399.0,321.5 397.5,323.5 396.0,324.5 394.5,324.0 392.5,324.5 391.3,324.5 391.5,325.2 391.4,325.2 391.2,324.5 391.5,325.5 395.0,326.2 400.5,326.2 401.5,328.5 403.0,331.0 405.0,332.0 407.0,330.0 410.0,329.5 412.5,330.0 413.5,334.0 414.0,337.5 414.5,339.0 417.0,339.5 417.5,340.0 419.0,340.0 425.0,342.0 427.0,341.0 428.5,343.0 429.5,345.5 430.5,344.0 430.0,342.0 429.0,339.0 428.5,336.0 429.5,333.5 432.0,332.5 433.5,332.0 432.0,329.0 431.0,326.0 430.5,323.0 430.8,321.5 430.8,318.5 430.0,317.0 430.5,314.5 432.5,313.0 432.0,310.0 434.0,304.0 434.5,305.0 434.0,301.5 430.0,298.5 427.0,297.0 425.0,295.0 423.5,296.5 421.0,297.5 418.0,298.0 415.0,299.5 412.0,298.5 409.0,298.0 406.5,299.5Z" fill="#d9bc9d"/>
<path d="M394.0,316.5 392.0,317.0 390.0,318.5 389.5,320.5 390.0,322.0 391.0,323.5 391.3,324.5 392.5,324.5 394.5,324.0 396.0,324.5 397.5,323.5 399.0,321.5 400.0,319.0 401.0,316.0 404.0,310.0 404.8,306.0 405.0,301.5 405.0,299.5 400.5,300.0 399.5,305.5 396.0,305.2 396.0,312.0 395.5,315.0Z" fill="#d9bc9d"/>
<path d="M392.0,317.0 394.0,316.5 395.5,315.0 396.0,312.0 396.0,308.0 389.0,308.0 384.1,308.2 383.2,311.0 383.5,314.0 386.5,319.0 388.0,321.0 389.5,320.5 390.0,318.5Z" fill="#fcc5c0"/>
<path d="M389.0,305.2 385.1,305.2 385.0,305.5 384.9,305.2 384.8,305.2 385.0,306.0 384.1,308.2 389.0,308.0Z" fill="#fcc5c0"/>
<path d="M430.8,318.5 433.5,318.5 434.0,316.0 434.0,314.0 432.5,313.0 430.5,314.5 430.0,317.0Z" fill="#fcc5c0"/>
<path d="M432.0,322.5 433.5,320.0 433.5,318.5 430.8,318.5 430.8,321.5Z" fill="#fcc5c0"/>
<path d="M433.5,318.5 433.5,320.0 432.0,322.5 430.8,321.5 430.5,323.0 431.0,326.0 432.0,329.0 433.5,332.0 437.0,334.0 440.0,336.0 442.0,339.0 443.0,341.5 447.0,341.0 451.0,340.0 455.6,338.5 455.5,338.0 454.0,335.0 453.5,332.0 452.5,329.0 453.0,326.0 452.5,323.0 449.0,318.5 445.0,315.0 441.5,313.0 437.0,313.5 434.0,314.0 434.0,316.0Z" fill="#d9bc9d"/>
<path d="M391.0,323.5 391.4,325.2 391.5,325.2Z" fill="#d9bc9d"/>
<path d="M406.8,357.1 411.0,357.2 412.5,357.0 413.0,347.0 413.5,344.0 417.0,344.0 417.5,340.0 417.0,339.5 414.5,339.0 414.0,337.5 413.5,334.0 412.5,330.0 410.0,329.5 407.0,330.0 405.0,332.0 403.0,331.0 401.5,328.5 400.5,326.2 395.0,326.2 391.5,325.5 392.5,329.0 393.0,332.0 392.8,335.0 393.5,338.0 393.0,341.0 391.0,347.0 390.0,353.0 389.7,355.9Z" fill="#d9bc9d"/>
<path d="M413.0,347.0 412.5,357.0 415.0,356.5 416.5,356.7 417.6,356.6 417.6,356.9 418.0,357.0 420.6,354.4 429.4,351.5 430.3,351.7 432.0,350.0 435.0,348.5 437.5,347.0 439.0,338.0 440.0,336.0 437.0,334.0 433.5,332.0 432.0,332.5 429.5,333.5 428.5,336.0 429.0,339.0 430.0,342.0 430.5,344.0 429.5,345.5 428.5,343.0 427.0,341.0 425.0,342.0 419.0,340.0 417.5,340.0 417.0,344.0 413.5,344.0Z" fill="#fcc5c0"/>
<path d="M455.6,338.5 451.0,340.0 447.0,341.0 443.0,341.5 442.5,345.0 444.0,348.0 443.5,352.0 442.0,354.5 441.0,352.0 441.5,349.0 440.0,347.0 439.0,345.0 438.0,344.0 437.5,347.0 435.0,348.5 432.0,350.0 433.1,352.2 436.8,354.4 437.9,358.8 437.5,364.0 435.3,367.6 433.8,370.6 433.8,374.3 434.6,377.9 435.6,380.1 436.8,377.9 439.7,376.5 442.6,373.5 442.9,369.9 441.9,366.2 443.4,363.2 447.1,360.3 447.0,360.0 448.5,358.0 451.0,355.5 454.0,353.0 456.0,350.0 456.5,346.0 456.2,342.0 455.5,338.0Z" fill="#d9bc9d"/>
<path d="M439.0,338.0 438.0,344.0 439.0,345.0 440.0,347.0 441.5,349.0 441.0,352.0 442.0,354.5 443.5,352.0 444.0,348.0 442.5,345.0 443.0,341.5 442.0,339.0 440.0,336.0Z" fill="#fcc5c0"/>
<path d="M433.1,352.2 432.0,350.0 430.3,351.7ZM422.1,361.8 424.3,364.7 427.2,366.9 428.7,369.1 431.6,369.1 433.8,370.6 435.3,367.6 437.5,364.0 437.9,358.8 436.8,354.4 433.1,352.2 429.4,351.5 420.6,354.4 418.0,357.0 417.6,356.9 417.6,357.4 420.6,358.8Z" fill="#fcc5c0"/>
<path d="M412.5,357.0 411.0,357.2 406.8,357.1 389.7,355.9 391.2,360.3 393.4,365.4 395.6,371.3 398.5,381.6 400.0,385.3 401.5,386.8 404.4,386.0 406.6,384.6 409.6,380.9 408.1,378.7 407.6,375.0 408.1,369.1 409.6,364.0 410.3,358.8 411.0,358.4 417.6,357.4 417.6,356.6 416.5,356.7 415.0,356.5Z" fill="#fa9fb5"/>
<path d="M409.6,364.0 408.1,369.1 407.6,375.0 408.1,378.7 409.6,380.9 411.8,380.1 414.7,378.7 417.6,377.9 426.5,371.3 428.7,369.1 427.2,366.9 424.3,364.7 422.1,361.8 420.6,358.8 417.6,357.4 411.0,358.4 410.3,358.8Z" fill="#fcc5c0"/>
<path d="M433.8,374.3 433.8,370.6 431.6,369.1 428.7,369.1 426.5,371.3 417.6,377.9 414.7,378.7 411.8,380.1 409.6,380.9 406.6,384.6 404.4,386.0 401.5,386.8 401.2,389.7 402.2,393.4 402.6,397.1 403.2,400.0 405.1,401.5 408.1,401.2 411.8,400.0 416.2,400.0 420.6,399.3 425.0,397.1 428.7,394.1 431.6,390.4 436.0,383.1 435.6,380.1 434.6,377.9ZM434.6,382.1 432.6,382.6 431.6,379.4 433.1,377.9 435.0,379.4ZM427.6,387.9 425.0,390.9 422.8,388.2 425.7,386.0Z" fill="#fa9fb5"/>
<path d="M427.6,387.9 425.7,386.0 422.8,388.2 425.0,390.9Z" fill="url(#hatchmap)" stroke="#cfcfcf"/>
<path d="M434.6,382.1 435.0,379.4 433.1,377.9 431.6,379.4 432.6,382.6Z" fill="#fa9fb5"/>
<path d="M473.0,345.0 471.0,348.0 467.0,351.0 464.0,354.0 463.0,363.0 461.0,367.0 460.4,372.0 461.6,376.4 464.4,378.0 467.6,376.4 470.0,372.0 474.4,361.0 476.4,355.0 477.6,349.0 477.0,344.0 475.0,343.0Z" fill="#fcc5c0"/>
<path d="M462.6,342.2 462.6,341.2 461.6,341.2 461.6,342.2ZM464.6,343.6 464.6,342.6 463.6,342.6 463.6,343.6Z" fill="#d9bc9d"/>
<path d="M492.4,364.6 493.6,364.6 493.6,363.4 492.4,363.4Z" fill="#d9bc9d"/>
<path d="M539.0,184.4 537.9,184.8 536.0,187.0 533.0,189.0 534.0,193.0 528.0,199.0 527.4,199.1 531.0,200.0 530.0,202.0 528.0,203.5 523.0,205.5 521.0,206.5 522.0,208.5 523.5,211.0 524.0,213.5 524.5,214.5 529.0,216.0 531.0,218.5 532.0,218.0 534.0,220.5 532.2,222.8 532.3,222.9 535.0,222.0 537.0,227.0 541.0,231.0 546.0,233.0 552.0,235.0 557.0,237.0 561.0,238.0 561.0,239.6 561.7,239.7 562.0,238.0 565.0,237.6 568.0,238.0 573.0,235.0 577.0,235.6 580.0,238.0 579.5,239.5 581.0,237.5 582.5,239.5 583.5,242.0 584.5,247.0 585.5,249.5 588.5,253.5 590.0,254.5 591.0,256.0 592.0,255.0 593.0,253.5 594.5,252.0 596.0,252.5 598.0,251.5 600.0,251.0 602.0,252.0 604.0,253.5 606.0,255.5 608.0,254.5 610.0,255.0 611.0,255.5 611.5,257.5 612.5,257.5 612.8,255.5 616.5,254.0 621.5,253.0 624.0,252.0 626.5,250.5 629.0,248.5 631.0,246.0 632.5,243.0 633.5,239.0 634.0,235.0 631.0,240.0 633.0,236.0 632.4,232.0 630.0,228.0 625.9,223.5 624.5,221.8 623.1,220.3 622.4,218.9 623.5,217.5 624.5,216.5 625.9,215.4 627.0,214.3 625.2,213.6 623.5,212.7 622.0,212.4 621.3,213.3 620.3,214.0 619.2,213.3 618.2,212.2 615.4,210.8 614.6,209.8 615.7,208.7 617.1,207.6 618.5,206.2 619.6,204.8 620.6,204.5 621.7,205.2 622.4,208.0 623.5,209.1 624.9,208.5 628.0,206.9 629.1,205.2 630.2,203.8 631.2,202.7 633.0,203.1 634.8,201.6 635.8,199.9 636.7,200.5 638.0,198.0 637.0,194.0 638.0,190.0 637.0,186.0 632.0,185.0 622.0,181.0 612.0,175.0 608.0,173.0 603.0,173.6 600.0,176.0 598.0,180.0 597.6,184.0 599.0,187.0 603.0,186.4 607.0,188.0 605.0,191.0 601.0,193.0 597.0,194.0 594.0,197.0 590.0,200.0 584.0,201.6 578.0,201.0 566.0,199.0 560.0,196.0 555.0,195.0 550.0,193.0 547.0,190.0 542.0,187.0 539.8,184.5ZM612.0,263.5 614.0,262.0 614.8,260.0 613.5,258.8 611.0,259.0 609.2,260.5 610.0,262.8Z" fill="#c51b8a"/>
<path d="M456.4,182.4 457.4,185.0 459.0,187.0 464.0,190.0 464.0,191.5 467.0,190.0 470.0,189.5 472.0,190.0 472.5,192.0 471.0,194.0 469.0,195.0 468.1,196.8 473.0,200.0 478.0,200.0 480.5,200.8 480.0,198.0 479.0,194.5 481.5,192.8 484.5,192.5 492.0,197.0 495.0,197.5 498.0,197.0 500.5,198.0 502.0,200.0 504.0,202.0 506.5,203.5 509.0,203.0 512.0,200.0 515.0,199.0 519.0,198.5 527.0,199.0 527.4,199.1 528.0,199.0 534.0,193.0 533.0,189.0 536.0,187.0 539.0,183.6 520.0,176.0 515.0,173.0 511.0,170.0 507.0,171.0 503.0,170.0 499.0,167.6 494.0,168.0 488.0,170.0 483.0,171.0 482.4,175.0 484.0,179.0 480.0,178.0 468.0,176.0 463.0,177.0 459.0,179.0 457.0,182.0Z" fill="#d9bc9d"/>
<path d="M542.0,187.0 547.0,190.0 550.0,193.0 555.0,195.0 560.0,196.0 566.0,199.0 578.0,201.0 584.0,201.6 590.0,200.0 594.0,197.0 597.0,194.0 601.0,193.0 605.0,191.0 607.0,188.0 603.0,186.4 599.0,187.0 597.6,184.0 598.0,180.0 594.0,182.0 588.0,181.0 582.0,179.0 576.0,180.0 564.0,176.0 558.0,177.0 553.0,181.0 548.0,179.0 543.0,180.0 539.0,183.6Z" fill="#d9bc9d"/>
<path d="M630.2,208.7 630.9,210.5 631.2,212.2 633.0,212.6 634.4,212.2 636.2,211.5 637.2,210.5 636.2,209.4 635.5,208.3 635.8,206.9 636.9,205.5 637.6,204.1 636.9,200.6 635.8,199.9 634.8,201.6 633.0,203.1 631.2,202.7 630.2,203.8 629.1,205.2 628.0,206.9 629.1,207.6Z" fill="#f768a1"/>
<path d="M634.8,213.6 635.8,215.1 636.9,216.8 638.3,220.3 639.7,221.2 641.5,220.9 643.2,220.0 643.7,218.2 643.2,216.5 641.8,214.3 640.4,212.6 638.6,211.2 637.2,210.5 636.2,211.5 634.4,212.2Z" fill="#7a0177"/>
<path d="M656.5,200.0 657.5,201.5 659.0,202.0 660.0,200.5 661.5,200.8 663.0,200.0 664.5,199.0 666.0,198.8 666.8,197.5 665.5,196.0 664.0,195.0 662.0,195.5 660.0,194.5 658.0,193.0 656.0,193.5 657.0,196.0 656.2,198.0ZM661.0,209.5 660.5,212.0 659.5,214.0 658.0,214.5 657.5,217.0 652.5,218.5 649.0,222.0 648.0,223.5 652.0,222.5 654.0,222.8 656.5,221.5 658.5,220.8 659.5,222.5 661.0,223.0 663.0,220.8 665.5,220.2 667.5,219.5 667.8,217.5 666.5,214.0 665.8,210.0 664.5,206.5 662.5,204.2 660.5,203.5 659.8,205.0 660.5,207.0ZM657.0,224.4 657.5,223.0 655.5,222.6 653.5,223.2 653.8,224.4 655.0,225.0ZM650.0,229.0 651.0,230.0 652.2,229.5 652.5,227.5 651.8,225.0 650.0,224.2 648.0,223.8 646.5,224.5 647.5,226.0 649.0,227.0Z" fill="#7a0177"/>
<path d="M633.6,250.0 634.4,252.2 635.6,253.8 636.7,250.7 637.2,247.5 636.6,244.8 634.8,245.3 633.3,248.0Z" fill="#fa9fb5"/>
<path d="M476.0,203.5 478.0,207.5 479.0,213.0 481.0,212.5 484.0,212.0 487.0,212.5 490.0,213.5 492.5,215.0 496.5,219.0 498.5,218.5 502.0,215.0 504.5,214.0 506.5,212.5 505.0,211.0 503.0,210.0 495.5,205.5 493.0,204.5 491.0,203.5 489.5,202.0 487.5,200.5 485.5,200.0 483.5,201.5 482.0,203.0 480.5,201.0 478.5,202.5Z" fill="#d9bc9d"/>
<path d="M480.0,198.0 480.5,201.0 482.0,203.0 483.5,201.5 485.5,200.0 487.5,200.5 489.5,202.0 491.0,203.5 493.0,204.5 495.5,205.5 503.0,210.0 505.0,211.0 506.5,212.5 508.0,213.0 509.0,211.5 508.0,207.5 511.0,205.5 513.0,206.0 514.5,205.5 515.0,205.5 516.5,204.0 514.5,202.5 512.0,201.0 510.5,201.5 509.0,203.0 506.5,203.5 504.0,202.0 502.0,200.0 500.5,198.0 498.0,197.0 495.0,197.5 492.0,197.0 484.5,192.5 481.5,192.8 479.0,194.5Z" fill="#fcc5c0"/>
<path d="M512.0,201.0 514.5,202.5 516.5,204.0 515.0,205.5 514.5,205.5 516.5,206.5 518.5,206.0 521.0,206.5 523.0,205.5 528.0,203.5 530.0,202.0 531.0,200.0 527.0,199.0 519.0,198.5 515.0,199.0 512.0,200.0 510.5,201.5Z" fill="#d9bc9d"/>
<path d="M508.0,207.5 509.0,211.5 510.0,214.0 512.0,213.5 514.0,214.0 517.0,212.0 519.0,213.5 521.5,214.0 524.0,213.5 523.5,211.0 522.0,208.5 521.0,206.5 518.5,206.0 516.5,206.5 514.5,205.5 513.0,206.0 511.0,205.5Z" fill="#d9bc9d"/>
<path d="M496.0,222.0 496.5,225.0 497.5,228.0 498.5,230.5 499.0,233.0 500.5,234.2 503.0,234.0 506.0,233.5 508.5,232.5 510.0,230.5 512.0,229.0 514.0,227.0 517.0,223.0 518.0,220.5 518.5,218.0 519.5,216.0 522.0,215.5 524.5,214.5 524.0,213.5 521.5,214.0 519.0,213.5 517.0,212.0 514.0,214.0 512.0,213.5 510.0,214.0 509.0,211.5 508.0,213.0 506.5,212.5 504.5,214.0 502.0,215.0 498.5,218.5 496.5,219.0Z" fill="#fcc5c0"/>
<path d="M460.0,210.5 459.5,212.5 459.0,214.0 460.5,216.5 462.5,218.5 463.0,221.5 465.0,224.0 467.0,227.0 468.5,230.0 469.0,232.5 470.5,233.5 474.0,238.0 476.0,240.0 478.5,241.5 481.0,242.5 484.0,243.0 486.0,242.0 489.3,242.8 489.0,242.0 490.0,241.6 489.5,240.3 489.0,240.0 493.0,242.4 498.0,243.6 502.0,244.0 503.5,242.0 502.5,239.0 501.0,236.5 500.5,234.2 499.0,233.0 498.5,230.5 497.5,228.0 496.5,225.0 496.0,222.0 496.5,219.0 492.5,215.0 490.0,213.5 487.0,212.5 484.0,212.0 481.0,212.5 484.3,212.7 482.0,213.5 479.0,215.0 476.0,216.0 473.0,215.5 470.0,214.5 469.0,212.5 465.0,210.5 463.0,210.0 460.4,211.3ZM485.0,212.5 488.0,213.0 484.3,212.7Z" fill="#fa9fb5"/>
<path d="M501.0,236.5 502.5,239.0 503.5,242.0 502.0,244.0 505.0,244.4 509.0,244.0 513.0,245.0 517.0,248.0 518.0,246.0 519.5,242.5 518.5,240.0 520.0,238.5 522.0,237.0 524.5,235.5 526.5,233.5 527.5,231.0 528.0,228.5 527.0,226.0 525.5,223.5 524.5,221.0 529.5,220.0 531.0,218.5 529.0,216.0 524.5,214.5 522.0,215.5 519.5,216.0 518.5,218.0 518.0,220.5 517.0,223.0 514.0,227.0 512.0,229.0 510.0,230.5 508.5,232.5 506.0,233.5 503.0,234.0 500.5,234.2Z" fill="#f768a1"/>
<path d="M531.0,218.5 529.5,220.0 524.5,221.0 525.5,223.5 527.0,226.0 528.0,228.5 527.5,231.0 526.5,233.5 524.5,235.5 522.0,237.0 520.0,238.5 518.5,240.0 519.5,242.5 518.0,246.0 517.0,248.0 517.0,253.0 519.0,250.0 520.0,253.0 523.0,256.0 526.0,257.0 528.0,256.0 529.0,260.0 530.0,265.0 534.0,275.0 537.0,281.0 539.0,286.0 541.6,290.0 544.0,287.0 545.6,282.0 546.0,276.0 547.0,271.0 550.0,267.0 563.0,254.0 564.9,253.1 563.6,252.4 562.4,249.0 562.0,244.0 565.0,243.0 568.0,244.4 569.0,248.0 571.0,251.0 571.5,254.5 573.5,249.5 579.5,239.5 580.0,238.0 577.0,235.6 573.0,235.0 568.0,238.0 567.6,240.4 564.0,241.0 561.6,240.0 561.0,240.4 556.0,240.0 550.0,238.0 545.0,235.6 541.0,233.0 541.0,231.0 537.0,227.0 535.0,222.0 532.0,223.0 534.0,220.5 532.0,218.0Z" fill="#f768a1"/>
<path d="M545.0,235.6 550.0,238.0 556.0,240.0 561.0,240.4 561.6,240.0 561.7,239.7 561.0,239.6 561.0,238.0 557.0,237.0 552.0,235.0 546.0,233.0 541.0,231.0 541.0,233.0Z" fill="#f768a1"/>
<path d="M561.6,240.0 564.0,241.0 567.6,240.4 568.0,238.0 565.0,237.6 562.0,238.0Z" fill="#fcc5c0"/>
<path d="M562.4,249.0 563.6,252.4 566.0,253.6 568.0,252.0 569.6,254.0 571.6,255.0 571.0,251.0 569.0,248.0 568.0,244.4 565.0,243.0 562.0,244.0Z" fill="#f768a1"/>
<path d="M546.0,290.0 547.0,294.0 549.6,295.6 551.6,293.0 551.0,289.0 549.0,285.6 546.4,286.0Z" fill="#fcc5c0"/>
<path d="M571.8,256.6 573.0,256.0 574.5,258.0 576.0,260.5 577.0,263.0 578.0,266.0 578.5,269.0 580.0,270.0 584.0,269.0 585.5,269.5 586.2,271.5 587.2,274.0 588.2,277.0 589.0,280.0 589.8,282.0 590.5,281.0 590.0,278.0 588.0,273.0 586.5,268.0 585.5,265.5 585.0,263.0 585.8,260.5 587.5,259.0 589.5,257.5 591.0,256.0 590.0,254.5 588.5,253.5 585.5,249.5 584.5,247.0 583.5,242.0 582.5,239.5 581.0,237.5 579.5,239.5 573.5,249.5 571.5,254.5Z" fill="#fcc5c0"/>
<path d="M585.0,263.0 585.5,265.5 586.5,268.0 588.0,273.0 590.0,278.0 590.5,281.0 589.8,282.0 589.9,282.3 589.2,285.5 589.5,288.0 590.5,290.5 592.0,293.0 593.7,295.6 593.6,295.0 596.0,294.0 599.0,297.0 598.0,295.0 597.0,293.5 595.5,292.0 594.0,290.0 592.5,287.5 591.5,285.0 591.2,282.0 592.5,277.0 593.5,276.0 595.0,277.5 596.5,278.5 597.0,277.0 597.5,275.0 599.5,274.0 602.0,273.5 603.5,272.0 603.0,269.5 601.5,267.0 600.0,265.0 598.0,263.5 595.5,264.0 593.5,264.5 592.5,262.5 592.0,260.0 591.0,258.0 591.0,256.0 589.5,257.5 587.5,259.0 585.8,260.5Z" fill="#f768a1"/>
<path d="M591.0,258.0 592.0,260.0 592.5,262.5 593.5,264.5 595.5,264.0 598.0,263.5 600.0,265.0 601.5,267.0 603.0,269.5 603.5,272.0 604.0,273.0 608.0,274.0 609.0,272.5 608.5,270.0 607.0,267.5 605.0,265.0 599.5,259.5 600.0,257.5 599.5,255.5 597.5,254.5 596.0,253.0 594.5,252.0 593.0,253.5 592.0,255.0 591.0,256.0Z" fill="#fa9fb5"/>
<path d="M597.5,254.5 599.5,255.5 600.0,257.5 599.5,259.5 605.0,265.0 607.0,267.5 608.5,270.0 609.0,272.5 608.0,274.0 609.2,274.5 610.0,277.0 609.8,280.0 608.5,282.0 604.5,285.0 603.5,287.0 604.0,289.0 605.5,287.5 607.5,286.0 610.0,284.5 612.0,282.5 613.5,280.0 613.8,277.0 613.0,274.0 611.5,271.0 607.5,266.0 603.5,262.0 602.5,260.0 603.5,258.5 605.0,257.0 606.0,255.5 604.0,253.5 602.0,252.0 600.0,251.0 598.0,251.5 596.0,252.5 594.5,252.0 596.0,253.0Z" fill="#f768a1"/>
<path d="M603.5,272.0 602.0,273.5 599.5,274.0 597.5,275.0 597.0,277.0 597.2,276.3 599.0,280.0 600.5,282.0 602.5,283.5 604.5,283.0 606.5,283.5 608.5,282.0 609.8,280.0 610.0,277.0 609.2,274.5 608.0,274.0 604.0,273.0Z" fill="#fa9fb5"/>
<path d="M615.0,306.5 615.3,306.4 615.0,306.0ZM632.4,316.0 635.6,308.0 634.4,304.0 635.0,300.0 632.0,301.0 630.0,303.0 629.0,305.0 627.5,306.5 623.5,307.5 622.0,307.5 620.0,308.0 619.0,308.5 615.0,309.5 615.0,311.0 616.4,315.0 619.0,318.0 628.0,321.0 630.0,319.0ZM605.6,319.0 602.0,314.0 594.0,304.0 590.0,300.0 586.0,297.0 582.4,297.6 585.6,302.0 589.0,306.0 592.4,311.0 599.6,321.0 603.0,325.0 606.0,326.0 607.0,323.0ZM646.4,319.0 645.0,316.0 642.4,314.0 643.6,311.6 651.0,309.0 650.0,307.6 646.0,308.0 642.0,309.0 639.0,311.0 638.4,315.0 638.0,319.0 639.0,323.0 641.0,325.0 642.4,323.0 641.6,320.0 643.0,318.0 645.0,320.0ZM615.0,328.0 610.0,326.4 606.0,327.0 608.0,329.6 612.0,331.0 627.0,334.0 628.4,332.4 620.0,329.0ZM639.4,334.4 645.4,334.0 645.0,332.4 639.0,332.8ZM632.0,334.6 636.4,334.2 636.0,332.6 631.6,333.0ZM651.6,334.4 652.4,334.0 650.0,335.0 647.0,337.0 649.0,338.0 652.0,336.2ZM660.0,309.0 659.0,305.6 657.0,306.0 657.6,311.0 659.0,313.0ZM670.0,318.0 673.0,316.0 671.0,313.0 668.0,312.4 665.0,314.0 666.0,316.4 667.6,319.0 668.2,319.8ZM659.2,319.6 664.0,319.8 664.0,318.6 659.0,318.4ZM653.2,320.2 657.2,320.0 657.0,318.6 653.0,319.0ZM668.2,319.8 668.0,320.0 668.5,320.2ZM685.0,333.6 688.0,334.0 688.0,318.0 685.0,316.4 682.0,315.6 678.0,316.4 671.0,321.0 668.5,320.2 670.0,322.0 679.0,325.0 681.0,328.0 679.0,331.0 680.0,333.6 682.0,332.4ZM672.0,328.8 673.4,328.4 673.2,325.2 671.6,325.6Z" fill="#fcc5c0"/>
<path d="M629.4,297.1 628.8,297.2 628.9,297.8ZM602.8,307.8 603.6,307.6 603.0,305.0 599.0,297.0 596.0,294.0 593.6,295.0 594.4,298.4 596.4,301.6 599.0,305.0 601.8,308.2 602.0,308.2 602.0,307.4 602.8,307.4ZM625.5,302.5 623.5,304.0 621.5,303.5 619.5,304.5 617.0,306.0 615.0,306.5 615.0,309.5 619.0,308.5 620.0,308.0 622.0,307.5 623.5,307.5 627.5,306.5 629.0,305.0 630.0,303.0 632.0,301.0 635.0,300.0 635.0,299.7 634.5,300.0 636.5,299.0 637.8,297.5 636.0,296.5 632.5,293.0 631.0,293.5 630.0,296.0 628.9,297.8 629.0,298.5 628.0,300.0 626.8,300.2 626.9,300.6Z" fill="#d9bc9d"/>
<path d="M626.8,300.2 628.0,300.0 629.0,298.5 628.8,297.2 627.5,297.5 626.5,299.0Z" fill="#c51b8a"/>
<path d="M602.0,308.2 602.8,308.2 602.8,307.4 602.0,307.4Z" fill="#7a0177"/>
<path d="M638.8,275.5 639.5,277.5 640.5,279.0 641.5,278.5 641.2,276.5 642.5,275.5 646.5,277.5 647.0,276.5 645.5,275.0 641.5,273.0 640.8,270.5 641.5,268.0 641.8,265.0 640.5,263.0 638.5,262.8 637.0,264.5 636.5,268.0 637.8,271.5 639.0,273.5ZM650.5,284.0 651.5,282.0 651.2,280.0 650.0,278.2 648.5,278.5 649.5,282.5ZM644.5,286.0 645.5,287.5 646.5,286.0 647.0,284.0 646.0,283.5 645.0,282.0 644.0,280.8 642.5,281.5 643.0,283.0 644.0,284.0ZM637.8,282.2 637.0,281.8 635.5,284.5 632.5,289.5 633.5,289.8 635.0,287.5 636.5,285.0ZM649.0,293.5 650.0,295.5 651.5,296.5 653.0,295.5 654.0,293.5 654.2,290.5 653.5,288.0 652.5,286.0 651.0,286.2 649.0,288.0 647.0,289.5 645.0,290.2 643.5,292.0 645.0,292.5 646.5,291.5 648.0,292.0Z" fill="#fcc5c0"/>
<path d="M652.0,336.4 654.4,335.2 656.0,333.6 654.0,333.2 651.6,334.4Z" fill="#f768a1"/>
<path d="M711.0,327.0 714.4,325.0 716.0,322.0 715.0,319.0 713.0,318.4 714.0,321.0 712.0,323.6 709.0,325.0 705.0,325.6 707.0,327.6ZM691.0,333.6 694.0,332.4 697.0,333.6 700.0,335.0 703.0,337.0 706.0,338.4 708.0,337.6 705.0,335.0 702.0,332.0 700.0,329.0 702.4,327.0 700.0,324.0 696.0,321.0 692.0,319.0 688.0,318.0 688.0,334.0Z" fill="#fa9fb5"/>
<path d="M721.0,329.2 722.2,328.4 720.4,324.2 719.0,324.4Z" fill="#fa9fb5"/>
<path d="M726.6,331.2 727.0,330.0 724.0,329.0 724.0,330.2ZM734.0,335.6 732.0,333.6 729.0,332.0 730.0,334.0 733.0,336.4ZM735.0,338.8 733.0,338.0 732.8,339.0 734.6,339.8Z" fill="#d9bc9d"/>
<path d="M744.0,354.0 745.2,353.6 744.2,349.2 743.0,349.0Z" fill="#d9bc9d"/>
<path d="M736.4,367.0 739.0,369.6 740.0,368.0 736.0,363.0 734.4,363.6Z" fill="#d9bc9d"/>
<path d="M617.0,390.0 616.4,394.0 615.0,398.0 614.0,400.0 616.0,402.4 620.0,402.0 630.0,398.0 635.0,396.4 640.0,395.0 645.0,394.0 650.0,393.6 654.0,394.4 657.0,397.0 659.0,401.0 661.0,400.0 663.0,398.0 664.4,399.0 663.6,402.0 664.4,406.0 666.0,409.6 669.0,411.6 672.4,412.4 675.6,413.0 678.4,412.4 681.6,411.0 685.0,409.0 694.0,399.0 700.0,393.0 702.4,389.6 704.0,386.0 705.2,382.0 705.6,378.0 704.0,373.0 702.0,369.0 699.6,365.0 697.0,361.0 695.0,356.0 694.0,351.0 692.0,347.0 690.4,342.0 689.0,340.0 687.0,350.0 685.0,355.0 682.0,356.4 679.0,354.0 675.6,351.0 674.0,347.0 676.0,343.6 673.0,342.4 669.0,343.0 666.0,341.0 662.0,343.0 659.0,345.0 656.0,348.0 652.0,349.0 648.0,351.0 644.0,355.0 640.0,358.0 630.0,364.0 625.0,366.0 621.0,369.0 619.0,374.0 617.0,380.0 617.6,385.0ZM669.0,425.0 672.0,424.0 675.0,422.4 677.0,419.6 675.6,418.0 671.6,418.0 668.4,419.0 667.6,422.4Z" fill="#f768a1"/>
<path d="M737.6,410.0 735.6,413.0 733.6,415.6 732.4,418.4 734.4,419.0 737.6,417.0 740.0,414.4 743.0,412.4 746.0,411.0 747.0,409.0 744.4,409.0 742.4,407.6 742.0,404.0 741.0,401.0 739.0,401.6 738.4,406.0ZM727.0,417.6 724.0,419.6 720.4,421.6 713.6,425.6 710.0,427.6 707.0,429.0 705.6,431.0 708.0,432.4 711.0,431.6 714.4,429.0 718.0,426.4 721.6,424.0 725.0,421.6 728.0,419.0 730.0,417.6 729.0,416.6Z" fill="#7a0177"/>
<path d="M774.0,354.0 773.6,353.0 770.0,354.4 771.0,355.4ZM769.6,358.0 769.0,355.6 766.0,357.0 767.0,359.0Z" fill="#d9bc9d"/>
<path d="M3.0,254.0 3.2,253.2 2.0,253.0 2.0,253.8ZM7.6,256.4 6.4,255.2 5.0,255.0 5.4,256.0 6.6,256.8ZM12.0,260.0 10.4,258.2 8.8,259.0 9.2,261.4 11.0,262.0Z" fill="#fa9fb5"/>
<path d="M351.5,169.0 350.0,168.0 348.5,168.5 348.8,170.0 350.0,171.0 351.2,170.5ZM355.0,167.5 356.0,169.0 354.5,170.0 355.5,171.5 354.5,173.5 352.5,175.0 353.0,176.2 355.0,176.8 354.0,178.0 351.5,179.5 352.0,180.5 354.0,180.0 356.5,179.2 359.0,178.8 362.0,178.5 364.5,178.0 365.8,176.5 365.0,174.5 361.5,171.0 360.0,169.0 358.0,167.0 359.0,165.0 358.5,163.0 356.5,162.0 357.0,160.0 354.5,160.0 351.5,161.0 351.5,162.5 352.5,164.0 353.5,166.5Z" fill="#fa9fb5"/>
<path d="M350.0,171.0 348.8,170.0 348.5,168.7 346.5,169.5 344.5,172.0 343.5,176.5 345.0,177.0 347.5,176.2 350.0,175.0 351.0,172.5 351.0,170.6Z" fill="#c51b8a"/>
<path d="M375.8,182.9 375.0,183.2 375.0,183.1 373.5,182.5 370.5,181.0 368.0,179.0 366.0,179.2 361.5,182.0 360.0,183.5 356.5,184.0 354.0,185.0 354.5,186.2 356.0,187.0 358.0,188.5 359.5,190.0 360.5,193.0 360.0,196.5 360.5,198.8 365.0,200.0 370.0,197.5 373.0,198.0 376.0,197.5 377.5,196.0 378.0,194.5 377.5,192.5 376.6,190.7 376.5,190.7 376.0,188.5 377.8,187.3 377.0,186.5 378.0,184.0 376.0,183.5Z" fill="#fcc5c0"/>
<path d="M376.2,172.2 376.7,174.5 376.2,177.0 375.2,178.5 375.2,180.0 375.0,179.8 375.0,180.0 376.0,182.8 375.8,182.9 376.0,183.5 378.0,184.0 377.0,186.5 377.8,187.3 378.0,187.2 380.5,186.8 383.0,187.3 383.1,187.5 386.0,187.0 388.0,186.0 389.5,184.5 388.5,183.0 387.5,181.0 389.5,180.0 391.0,178.8 391.5,177.0 391.0,174.0 391.0,171.5 390.7,171.6 389.0,170.5 386.0,170.0 383.0,170.5 382.0,170.3 379.0,170.0 378.9,169.6 376.3,172.2Z" fill="#fcc5c0"/>
<path d="M379.0,170.0 382.0,170.3 382.7,168.5 382.0,166.5 382.8,164.5 382.0,162.5 380.0,163.0 378.5,164.0 378.3,167.0ZM386.0,168.7 387.0,167.5 386.0,166.3 384.5,166.8 384.7,168.2Z" fill="#fcc5c0"/>
<path d="M375.2,180.0 375.2,178.5 376.2,177.0 376.7,174.5 376.2,172.2 373.5,172.2 371.8,173.8 370.7,176.0 371.2,177.8 371.5,177.8 373.5,178.5 374.4,179.3Z" fill="#c51b8a"/>
<path d="M374.4,179.3 375.0,180.0 375.0,179.8ZM375.0,180.0 373.5,178.5 371.5,177.8 369.5,178.0 368.0,179.0 370.5,181.0 373.5,182.5 375.0,183.1 374.8,181.8 375.5,181.5Z" fill="#7a0177"/>
<path d="M375.0,183.2 376.0,182.8 375.5,181.5 374.8,181.8Z" fill="#7a0177"/>
<path d="M376.5,190.7 377.8,190.4 380.0,190.5 382.0,190.0 384.0,189.0 383.0,187.5 383.1,187.5 383.0,187.3 380.5,186.8 378.0,187.2 376.0,188.5Z" fill="#fa9fb5"/>
<path d="M384.0,189.0 386.0,188.5 392.0,189.5 395.0,189.0 396.5,187.5 397.0,185.5 395.0,184.5 392.0,184.0 389.5,184.5 388.0,186.0 386.0,187.0 383.0,187.5Z" fill="#fa9fb5"/>
<path d="M388.5,183.0 389.5,184.5 392.0,184.0 395.0,184.5 398.0,183.5 400.0,182.0 398.0,180.5 395.0,180.0 391.5,178.5 389.5,180.0 387.5,181.0Z" fill="#fcc5c0"/>
<path d="M410.0,176.2 409.0,173.5 409.5,171.5 410.5,171.2 408.0,170.5 406.5,169.5 405.0,170.0 401.0,170.0 397.5,169.0 394.0,170.0 391.0,171.5 391.0,174.0 391.5,177.0 391.0,178.8 391.5,178.5 395.0,180.0 398.0,180.5 400.0,182.0 401.0,181.5 404.0,182.2 407.5,182.5 409.5,181.0 409.8,180.3 409.5,179.0 409.8,177.3 409.5,176.5 409.8,177.3Z" fill="#f768a1"/>
<path d="M398.0,186.5 400.0,186.8 402.0,186.8 406.0,185.8 408.0,185.5 408.8,186.2 408.8,184.8 408.5,184.5 408.5,182.8 409.0,182.5 410.0,181.0 409.8,180.3 409.5,181.0 407.5,182.5 404.0,182.2 401.0,181.5 400.0,182.0 398.0,183.5 395.0,184.5 397.0,185.5 396.5,187.5 395.0,189.0 392.0,189.5 389.0,189.0 391.0,190.0 391.0,191.5 392.0,190.2 394.0,189.8 396.2,189.5 396.8,190.2 397.0,187.5Z" fill="#d9bc9d"/>
<path d="M401.5,191.0 402.2,191.8 403.0,190.8 406.0,189.8 407.0,188.8 408.0,187.5 408.8,186.2 408.0,185.5 406.0,185.8 402.0,186.8 400.0,186.8 398.0,186.5 397.0,187.5 396.8,190.2 398.5,190.2 400.0,190.9Z" fill="#fcc5c0"/>
<path d="M391.0,191.5 392.0,192.2 394.5,192.0 396.0,191.2 396.8,190.2 396.2,189.5 394.0,189.8 392.0,190.2Z" fill="#c51b8a"/>
<path d="M396.0,194.8 399.0,197.8 401.8,200.0 402.5,199.8 402.8,199.2 401.8,199.0 400.5,197.5 396.2,193.2 397.5,192.8 400.5,193.2 402.0,193.0 402.2,191.8 401.5,191.0 400.0,190.9 398.5,190.2 396.8,190.2 396.0,191.2 394.5,192.0 395.0,193.2Z" fill="#fcc5c0"/>
<path d="M396.2,193.2 400.5,197.5 401.8,199.0 402.8,199.2 403.5,198.2 403.0,197.0 403.2,195.5 402.8,194.0 402.0,193.0 400.5,193.2 397.5,192.8Z" fill="#fcc5c0"/>
<path d="M376.6,190.7 377.5,192.5 378.0,194.5 380.0,196.0 382.5,195.5 384.5,197.0 386.0,199.5 388.0,202.0 390.5,204.5 393.0,206.5 395.5,208.0 397.5,210.0 397.0,211.5 398.0,212.5 399.0,211.0 399.0,210.0 400.0,208.0 402.0,207.5 401.5,205.5 399.0,204.5 396.5,203.0 394.0,200.5 392.0,198.0 390.5,195.5 389.5,193.5 391.3,191.7 391.0,191.5 391.0,190.0 389.0,189.0 386.0,188.5 384.0,189.0 382.0,190.0 380.0,190.5 377.8,190.4ZM394.0,211.5 391.5,211.8 389.5,212.2 391.0,213.5 393.0,214.5 395.0,215.0 395.8,213.5 396.2,211.8Z" fill="#f768a1"/>
<path d="M381.0,201.5 381.8,203.0 382.8,202.0 382.5,199.0 381.0,199.5Z" fill="#fcc5c0"/>
<path d="M380.5,208.0 382.0,209.0 383.2,207.5 383.0,203.8 380.5,204.0Z" fill="#f768a1"/>
<path d="M360.5,198.8 360.5,198.9 359.0,198.5 347.0,197.5 344.0,198.5 345.0,200.0 349.0,201.0 348.5,202.5 347.5,205.0 348.0,207.5 347.0,210.0 347.5,212.5 347.0,215.0 348.0,214.5 349.5,216.0 351.0,216.8 353.5,216.0 356.0,215.0 358.5,214.5 361.0,213.0 362.5,211.5 363.0,209.0 364.0,206.5 367.0,204.0 369.0,201.5 368.0,200.5 365.0,200.0Z" fill="#f768a1"/>
<path d="M343.5,200.0 342.5,208.0 343.5,214.0 345.0,214.8 347.0,215.0 347.5,212.5 347.0,210.0 348.0,207.5 347.5,205.0 348.5,202.5 349.0,201.0 345.0,200.0 344.0,198.5Z" fill="#f768a1"/>
<path d="M381.0,116.5 384.0,117.5 386.5,119.0 389.0,119.5 392.0,115.5 395.0,114.5 399.0,114.0 402.0,113.0 400.0,112.2 395.0,112.0 390.0,112.2 386.0,112.8 381.0,113.2 378.0,114.5 379.0,115.5ZM397.0,118.0 399.5,117.2 397.0,116.2 394.5,116.5 395.0,117.5Z" fill="#f768a1"/>
<path d="M403.0,138.0 403.5,141.0 405.0,142.5 407.0,143.5 406.0,145.0 402.0,148.0 401.5,150.5 402.5,152.5 403.5,155.0 406.0,156.2 410.0,156.0 414.0,155.5 416.5,154.5 418.5,152.5 420.0,150.5 416.5,146.0 415.0,143.0 413.0,137.0 412.0,134.5 411.0,133.0 408.0,133.5 406.5,135.0 405.0,136.0 403.0,135.0Z" fill="#fa9fb5"/>
<path d="M385.0,147.5 384.5,149.5 384.0,152.0 385.0,154.0 384.5,156.0 383.0,158.0 383.1,158.0 383.5,162.0 384.0,158.0 385.0,161.0 386.5,164.0 388.0,166.5 390.0,167.0 392.0,165.0 394.0,165.0 395.0,163.0 396.5,160.5 397.5,158.0 396.5,156.0 395.0,154.5 394.5,152.5 396.0,150.5 398.0,149.0 400.0,147.0 400.5,144.5 402.5,143.0 403.5,141.0 403.0,138.0 403.0,135.0 401.0,135.5 399.0,135.0 395.0,136.5 393.0,137.5 391.0,139.5 388.0,143.5 387.0,145.0 386.5,146.5Z" fill="#fcc5c0"/>
<path d="M372.0,151.5 373.0,158.0 374.5,160.0 377.0,160.5 380.0,159.5 383.0,158.0 384.5,156.0 385.0,154.0 384.0,152.0 384.5,149.5 385.0,147.5 386.5,146.5 387.0,145.0 388.0,143.5 391.0,139.5 393.0,137.5 395.0,136.5 399.0,135.0 401.0,135.5 403.0,135.0 405.0,136.0 406.5,135.0 408.0,133.5 411.0,133.0 412.0,134.5 414.5,133.5 414.0,132.0 411.0,131.2 407.0,131.0 403.0,131.5 397.0,133.5 393.0,134.5 390.0,136.0 388.0,137.5 382.0,145.0 380.0,147.0 374.0,150.0Z" fill="#f768a1"/>
<path d="M407.0,160.0 409.9,161.8 409.5,161.8 412.5,162.5 415.0,162.5 415.5,161.0 415.0,158.5 412.0,158.0 409.0,157.8 406.5,158.5Z" fill="#f768a1"/>
<path d="M414.0,162.5 412.5,162.5 409.5,161.8 406.5,162.0 403.5,163.0 404.2,166.0 406.5,165.5 409.5,165.5 413.0,166.3 414.0,168.0 415.5,166.5 416.5,165.0 415.0,162.8 414.0,162.7Z" fill="#fcc5c0"/>
<path d="M404.5,168.0 406.5,169.5 408.0,170.5 410.5,171.2 412.5,170.0 414.0,168.0 413.0,166.3 409.5,165.5 406.5,165.5 404.0,166.0Z" fill="#fcc5c0"/>
<path d="M409.0,173.5 410.0,176.2 412.0,176.8 415.0,177.0 418.0,177.5 421.0,177.2 424.0,176.5 425.0,174.5 426.5,172.5 423.5,168.5 421.0,167.0 418.0,166.0 415.5,166.5 414.0,168.0 412.5,170.0 410.5,171.2 409.5,171.5Z" fill="#fa9fb5"/>
<path d="M424.5,175.5 424.0,176.5 421.0,177.2 418.0,177.5 415.0,177.0 412.0,176.8 410.0,176.2 409.5,179.0 410.0,181.0 409.0,182.5 408.5,182.8 408.5,184.5 408.8,184.8 408.8,186.2 410.0,185.8 412.0,186.0 413.0,186.0 415.6,185.6 417.0,185.0 418.0,185.0 419.2,184.8 420.5,185.8 424.0,190.8 424.0,192.0 423.9,192.5 424.5,191.5 426.0,190.0 428.0,191.0 429.5,190.5 431.0,191.0 432.2,192.2 431.5,193.8 433.0,195.0 434.5,194.0 435.5,194.5 437.5,194.0 439.5,193.0 439.0,191.8 436.5,191.0 435.0,190.0 435.5,189.8 438.0,189.2 440.0,189.0 440.5,189.5 442.0,188.5 444.0,187.5 443.5,185.5 443.8,183.0 442.0,181.5 439.0,180.5 436.0,180.0 433.0,178.5 430.0,176.5 429.5,175.0 427.0,175.5 425.2,176.1Z" fill="#d9bc9d"/>
<path d="M417.0,185.0 418.0,186.0 420.0,189.0 421.0,190.8 422.0,192.0 423.2,192.5 424.0,192.0 424.0,190.8 420.5,185.8 419.2,184.8 418.0,185.0Z" fill="#d9bc9d"/>
<path d="M412.0,186.0 410.0,185.8 408.8,186.2 408.0,187.5 407.0,188.8 406.0,189.8 406.5,191.2 407.5,192.5 408.8,193.8 410.2,196.2 411.8,196.2 413.5,196.8 415.5,196.8 417.5,196.2 419.2,196.0 420.8,196.8 422.0,197.2 422.5,196.0 422.8,194.5 423.8,193.2 424.0,192.0 423.2,192.5 422.0,192.0 421.0,190.8 420.0,189.0 418.0,186.0 417.0,185.0 414.0,186.2 415.6,185.6 413.0,186.0Z" fill="#d9bc9d"/>
<path d="M409.2,200.0 407.8,199.8 407.5,200.8 410.8,201.2 411.2,202.2 412.0,203.2 413.2,203.5 414.8,203.2 416.2,203.2 417.8,202.8 419.0,202.5 420.5,202.0 421.6,201.5 421.2,200.0 421.8,198.8 422.0,197.2 420.8,196.8 419.2,196.0 417.5,196.2 415.5,196.8 413.5,196.8 411.8,196.2 410.2,196.2 410.8,197.8 411.0,200.0 410.2,199.2Z" fill="#d9bc9d"/>
<path d="M402.0,193.0 402.8,194.0 403.2,195.5 403.0,197.0 403.8,198.8 404.5,199.5 407.0,199.0 407.8,199.8 409.2,200.0 410.2,199.2 411.0,200.0 410.8,197.8 410.2,196.2 408.8,193.8 407.5,192.5 406.5,191.2 406.0,189.8 403.0,190.8 402.2,191.8Z" fill="#d9bc9d"/>
<path d="M402.5,199.8 403.2,201.0 404.0,201.2 404.8,200.8 404.5,199.5 403.8,198.8 403.5,198.2 402.8,199.2Z" fill="#d9bc9d"/>
<path d="M404.5,199.5 404.8,200.8 405.8,200.8 406.5,201.2 407.5,200.8 407.8,199.8 407.0,199.0Z" fill="#fcc5c0"/>
<path d="M406.9,203.2 407.8,204.0 409.2,203.9 410.8,203.5 411.2,202.2 410.8,201.2 407.5,200.8 406.5,201.2Z" fill="#fcc5c0"/>
<path d="M404.5,204.8 405.1,206.2 405.8,207.0 406.5,205.8 407.0,204.5 407.8,204.0 406.9,203.2 406.5,201.2 405.8,200.8 404.8,200.8 404.0,201.2 404.1,203.0Z" fill="#f768a1"/>
<path d="M406.5,205.8 409.5,211.0 411.5,215.0 412.4,216.5 413.0,216.0 412.0,214.5 412.5,213.8 413.5,214.5 414.5,214.0 414.2,213.0 413.2,211.5 412.5,210.0 412.0,208.5 411.8,207.0 412.5,206.5 413.5,207.2 414.0,206.5 413.0,205.2 414.0,204.8 415.0,205.0 416.0,204.5 417.5,204.2 418.8,203.8 419.0,202.5 417.8,202.8 416.2,203.2 414.8,203.2 413.2,203.5 412.0,203.2 411.2,202.2 410.8,203.5 409.2,203.9 407.8,204.0 407.0,204.5ZM416.5,219.7 419.0,219.8 419.5,219.0 416.5,218.3 414.0,218.5 414.2,219.3Z" fill="#fa9fb5"/>
<path d="M433.7,220.6 435.0,220.6 436.8,219.6 437.5,218.3 435.0,219.1 433.3,219.8Z" fill="#c51b8a"/>
<path d="M454.7,203.0 448.0,203.5 444.0,202.5 439.0,202.0 434.0,202.2 429.0,202.8 425.0,204.0 422.5,205.0 419.8,206.5 420.5,208.5 419.5,210.5 420.0,213.0 422.0,215.0 424.0,215.5 426.0,216.5 428.5,216.2 430.5,215.0 433.0,216.0 435.0,217.0 438.0,216.5 440.0,216.0 441.4,217.9 441.7,215.8 443.5,216.3 445.2,215.2 453.3,214.5 453.3,214.9 453.9,214.9 454.0,214.5 457.0,214.0 459.0,214.0 459.5,212.5 460.0,210.5 459.0,208.5 459.5,206.0 458.5,204.0 458.1,203.9 456.0,203.5 453.0,202.0ZM419.5,205.5 423.2,204.0 424.0,203.0 423.0,202.2 421.5,201.5 420.5,202.0 419.0,202.5 418.8,203.8 418.6,203.8Z" fill="#f768a1"/>
<path d="M450.5,200.5 453.0,202.0 456.0,203.5 460.2,204.2 461.0,204.0 462.1,204.4 462.4,204.3 462.0,204.0 464.0,203.5 462.0,202.0 459.0,201.0 455.0,200.0 449.0,198.0Z" fill="#fcc5c0"/>
<path d="M460.2,204.2 458.1,203.9 458.5,204.0 459.5,206.0 461.5,207.5 463.5,208.0 465.0,208.5 464.5,206.5 463.0,204.8 461.0,204.0 459.0,204.5Z" fill="#fcc5c0"/>
<path d="M464.5,206.5 465.0,208.5 465.0,210.5 468.3,212.1 470.0,209.5 470.3,208.0 470.0,207.5 469.0,205.0 466.0,204.0 464.0,203.5 462.0,204.0 463.0,204.8Z" fill="#fcc5c0"/>
<path d="M441.1,220.9 441.9,220.4 442.4,221.4 441.9,222.6 441.3,222.9 441.4,224.7 442.4,225.7 444.2,226.2 446.2,225.2 448.2,224.1 451.5,221.5 452.7,219.5 453.1,216.6 453.3,214.5 445.2,215.2 443.5,216.3 441.7,215.8 441.3,218.6Z" fill="#fa9fb5"/>
<path d="M441.3,222.9 441.9,222.6 442.4,221.4 441.9,220.4 441.1,220.9 440.7,222.9Z" fill="#7a0177"/>
<path d="M452.8,219.1 452.7,219.5 453.0,219.0 451.5,221.5 449.0,223.5 449.5,225.5 451.0,227.5 454.0,229.0 460.0,233.0 463.0,234.5 466.0,235.0 467.5,233.0 469.0,232.5 468.5,230.0 467.0,227.0 465.0,224.0 463.0,221.5 462.5,218.5 460.5,216.5 459.0,214.0 457.0,214.0 454.0,214.5 453.5,216.5 453.9,214.9 453.3,214.9ZM449.0,223.5 448.2,224.1 448.5,226.2 449.5,225.5Z" fill="#c51b8a"/>
<path d="M475.5,242.8 475.0,243.0 473.5,241.0 470.2,236.3 469.0,236.5 467.0,236.0 466.0,235.0 463.0,234.5 460.0,233.0 454.0,229.0 451.0,227.5 449.5,225.5 448.5,226.2 447.2,227.4 446.0,228.2 446.7,230.2 446.2,231.7 442.7,234.3 440.7,234.3 440.7,235.0 442.5,238.5 448.5,249.0 450.0,252.0 451.0,255.5 452.5,258.5 454.0,259.0 456.0,260.0 458.5,265.0 459.8,267.2 462.0,265.9 465.6,265.6 471.2,264.5 476.1,263.1 482.1,261.7 487.8,258.8 488.2,253.2 487.8,251.8 485.3,251.4 479.7,250.0 479.3,248.6 477.6,247.0 477.2,246.3 477.0,246.4 475.8,245.2Z" fill="#7a0177"/>
<path d="M441.2,226.7 441.4,229.2 440.9,231.7 440.7,234.3 442.7,234.3 446.2,231.7 446.7,230.2 446.0,228.2 447.2,227.4 448.5,226.2 448.2,224.1 444.2,226.2 442.4,225.7 441.4,224.7Z" fill="#7a0177"/>
<path d="M439.3,231.5 440.0,234.5 440.5,234.0 441.4,229.2 441.2,226.7 441.4,224.7 441.3,222.9 440.7,222.9 438.7,229.7Z" fill="#c51b8a"/>
<path d="M469.0,232.5 467.5,233.0 466.0,235.0 467.0,236.0 469.0,236.5 470.5,233.5Z" fill="#f768a1"/>
<path d="M475.8,245.2 477.0,246.4 478.0,245.8 477.8,244.0 476.8,242.4 475.5,242.8Z" fill="url(#hatchmap)" stroke="#cfcfcf"/>
<path d="M489.3,242.8 489.0,242.8 486.0,246.2 483.2,247.9 479.3,248.6 479.7,250.0 485.3,251.4 487.8,251.8 488.2,248.3 489.2,245.4 489.5,243.5Z" fill="#f768a1"/>
<path d="M460.2,270.0 461.5,276.0 462.2,278.2 465.0,277.5 475.0,274.5 484.0,270.0 486.7,267.0 483.2,267.3 482.1,261.7 476.1,263.1 471.2,264.5 465.6,265.6 462.0,265.9 459.8,267.2Z" fill="#fcc5c0"/>
<path d="M490.6,243.2 490.0,241.6 489.0,242.0 489.6,243.8ZM488.2,248.3 487.8,251.8 488.2,253.2 487.8,258.8 482.1,261.7 483.2,267.3 486.7,267.0 488.8,265.6 491.0,263.8 492.7,261.7 493.8,259.6 496.6,255.3 497.7,253.2 496.6,251.8 491.7,247.6 489.6,246.1 489.2,245.4Z" fill="#fa9fb5"/>
</g>
<!-- legend -->
<g id="legend">
<line x1="60.2" y1="498.2" x2="60.2" y2="502" stroke="#ccc" stroke-width="0.7"/>
<line x1="162.8" y1="498.2" x2="162.8" y2="502" stroke="#ccc" stroke-width="0.7"/>
<rect x="36.5" y="501.6" width="47.2" height="10.7" fill="url(#hatch)" stroke="#c4c4c4" stroke-width="0.8"/>
<rect x="103.6" y="501.5" width="118.3" height="11" fill="#d9bc9d" stroke="#9a9a9a" stroke-width="0.3"/>
<rect x="221.9" y="501.5" width="118.4" height="11" fill="#fcc5c0" stroke="#9a9a9a" stroke-width="0.3"/>
<rect x="340.3" y="501.5" width="118.3" height="11" fill="#fa9fb5" stroke="#9a9a9a" stroke-width="0.3"/>
<rect x="458.6" y="501.5" width="118.4" height="11" fill="#f768a1" stroke="#9a9a9a" stroke-width="0.3"/>
<rect x="577.0" y="501.5" width="118.3" height="11" fill="#c51b8a" stroke="#9a9a9a" stroke-width="0.3"/>
<rect x="695.3" y="501.5" width="118.3" height="11" fill="#7a0177" stroke="#9a9a9a" stroke-width="0.3"/>
<line x1="340.3" y1="498.2" x2="340.3" y2="512.5" stroke="#8a8a8a" stroke-width="0.6"/>
<line x1="458.6" y1="498.2" x2="458.6" y2="512.5" stroke="#8a8a8a" stroke-width="0.6"/>
<line x1="577.0" y1="498.2" x2="577.0" y2="512.5" stroke="#8a8a8a" stroke-width="0.6"/>
<line x1="695.3" y1="498.2" x2="695.3" y2="512.5" stroke="#8a8a8a" stroke-width="0.6"/>
<line x1="813.6" y1="498.2" x2="813.6" y2="512.5" stroke="#8a8a8a" stroke-width="0.6"/>
<text class="leg" x="60.2" y="494" text-anchor="middle" textLength="45.5" lengthAdjust="spacingAndGlyphs">No data</text>
<text class="leg" x="162.8" y="494" text-anchor="middle" textLength="113" lengthAdjust="spacingAndGlyphs">Phosphorus mining</text>
<text class="leg" x="340.3" y="494" text-anchor="middle" textLength="25" lengthAdjust="spacingAndGlyphs">5 kg</text>
<text class="leg" x="458.6" y="494" text-anchor="middle" textLength="32.5" lengthAdjust="spacingAndGlyphs">10 kg</text>
<text class="leg" x="577" y="494" text-anchor="middle" textLength="32.5" lengthAdjust="spacingAndGlyphs">25 kg</text>
<text class="leg" x="695.3" y="494" text-anchor="middle" textLength="32.5" lengthAdjust="spacingAndGlyphs">50 kg</text>
<text class="leg" x="834" y="494" text-anchor="end" textLength="40" lengthAdjust="spacingAndGlyphs">100 kg</text>
</g>
<!-- footer -->
<g id="footer">
<text class="foot" x="16.3" y="544.9" font-weight="bold" textLength="71.5" lengthAdjust="spacingAndGlyphs">Data source:</text>
<text class="foot" x="92" y="544.7" textLength="710.6" lengthAdjust="spacingAndGlyphs">West, Gerber, Engstrom, Mueller, Brauman, Carlson, Cassidy, Johnston, MacDonald, Ray &amp; Siebert (2014). Leverage points for</text>
<text class="foot" x="16.3" y="560.9" textLength="346" lengthAdjust="spacingAndGlyphs">improving global food security and the environment. Science.</text>
<text class="foot" x="16.3" y="580.6" textLength="222" lengthAdjust="spacingAndGlyphs">OurWorldinData.org/fertilizers | CC BY</text>
</g>
</svg>
</body>
</html>
